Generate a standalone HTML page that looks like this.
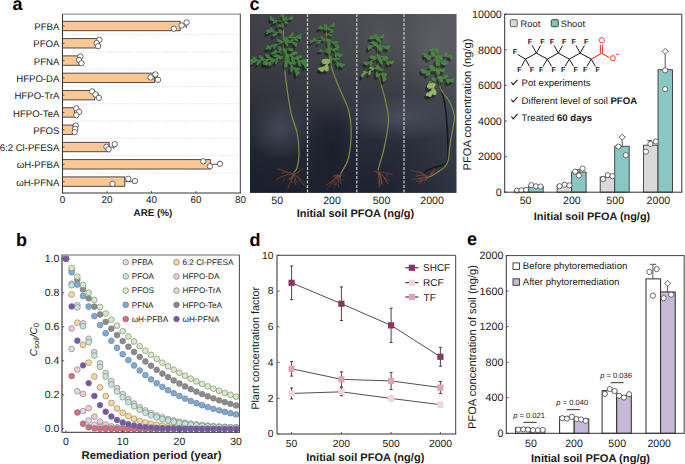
<!DOCTYPE html>
<html><head><meta charset="utf-8"><style>html,body{margin:0;padding:0;background:#fff;overflow:hidden;}svg{display:block;text-rendering:geometricPrecision;}</style></head><body>
<svg width="685" height="464" viewBox="0 0 685 464" font-family="'Liberation Sans', sans-serif">
<text x="12.60" y="10.30" font-size="18" text-anchor="start" font-weight="bold" fill="#000" >a</text>
<text x="249.60" y="10.30" font-size="18" text-anchor="start" font-weight="bold" fill="#000" >c</text>
<line x1="63.50" y1="34.64" x2="239.40" y2="34.64" stroke="#d4d4d4" stroke-width="0.8" stroke-dasharray="1.2,1.6"/>
<line x1="63.50" y1="51.94" x2="239.40" y2="51.94" stroke="#d4d4d4" stroke-width="0.8" stroke-dasharray="1.2,1.6"/>
<line x1="63.50" y1="69.22" x2="239.40" y2="69.22" stroke="#d4d4d4" stroke-width="0.8" stroke-dasharray="1.2,1.6"/>
<line x1="63.50" y1="86.52" x2="239.40" y2="86.52" stroke="#d4d4d4" stroke-width="0.8" stroke-dasharray="1.2,1.6"/>
<line x1="63.50" y1="103.80" x2="239.40" y2="103.80" stroke="#d4d4d4" stroke-width="0.8" stroke-dasharray="1.2,1.6"/>
<line x1="63.50" y1="121.09" x2="239.40" y2="121.09" stroke="#d4d4d4" stroke-width="0.8" stroke-dasharray="1.2,1.6"/>
<line x1="63.50" y1="138.38" x2="239.40" y2="138.38" stroke="#d4d4d4" stroke-width="0.8" stroke-dasharray="1.2,1.6"/>
<line x1="63.50" y1="155.67" x2="239.40" y2="155.67" stroke="#d4d4d4" stroke-width="0.8" stroke-dasharray="1.2,1.6"/>
<line x1="63.50" y1="172.97" x2="239.40" y2="172.97" stroke="#d4d4d4" stroke-width="0.8" stroke-dasharray="1.2,1.6"/>
<line x1="180.14" y1="26.00" x2="186.30" y2="26.00" stroke="#333" stroke-width="0.8" />
<line x1="186.30" y1="24.00" x2="186.30" y2="28.00" stroke="#333" stroke-width="0.8" />
<rect x="62.50" y="21.30" width="117.64" height="9.40" fill="#fbc794" stroke="#3a3a3a" stroke-width="0.9" />
<line x1="62.50" y1="26.00" x2="64.50" y2="26.00" stroke="#333" stroke-width="0.8" />
<text x="59.40" y="30.15" font-size="9.6" text-anchor="end" fill="#1a1a1a" >PFBA</text>
<circle cx="173.80" cy="28.70" r="2.7" fill="#fff" stroke="#444" stroke-width="0.8"/>
<circle cx="181.60" cy="25.50" r="2.7" fill="#fff" stroke="#444" stroke-width="0.8"/>
<circle cx="186.60" cy="22.40" r="2.7" fill="#fff" stroke="#444" stroke-width="0.8"/>
<line x1="97.64" y1="43.29" x2="99.50" y2="43.29" stroke="#333" stroke-width="0.8" />
<line x1="99.50" y1="41.29" x2="99.50" y2="45.29" stroke="#333" stroke-width="0.8" />
<rect x="62.50" y="38.59" width="35.14" height="9.40" fill="#fbc794" stroke="#3a3a3a" stroke-width="0.9" />
<line x1="62.50" y1="43.29" x2="64.50" y2="43.29" stroke="#333" stroke-width="0.8" />
<text x="59.40" y="47.44" font-size="9.6" text-anchor="end" fill="#1a1a1a" >PFOA</text>
<circle cx="99.40" cy="39.80" r="2.7" fill="#fff" stroke="#444" stroke-width="0.8"/>
<circle cx="96.60" cy="43.00" r="2.7" fill="#fff" stroke="#444" stroke-width="0.8"/>
<circle cx="98.10" cy="46.20" r="2.7" fill="#fff" stroke="#444" stroke-width="0.8"/>
<rect x="62.50" y="55.88" width="16.90" height="9.40" fill="#fbc794" stroke="#3a3a3a" stroke-width="0.9" />
<line x1="62.50" y1="60.58" x2="64.50" y2="60.58" stroke="#333" stroke-width="0.8" />
<text x="59.40" y="64.73" font-size="9.6" text-anchor="end" fill="#1a1a1a" >PFNA</text>
<circle cx="80.50" cy="56.60" r="2.7" fill="#fff" stroke="#444" stroke-width="0.8"/>
<circle cx="79.00" cy="59.90" r="2.7" fill="#fff" stroke="#444" stroke-width="0.8"/>
<circle cx="81.50" cy="63.20" r="2.7" fill="#fff" stroke="#444" stroke-width="0.8"/>
<line x1="154.34" y1="77.87" x2="157.50" y2="77.87" stroke="#333" stroke-width="0.8" />
<line x1="157.50" y1="75.87" x2="157.50" y2="79.87" stroke="#333" stroke-width="0.8" />
<rect x="62.50" y="73.17" width="91.84" height="9.40" fill="#fbc794" stroke="#3a3a3a" stroke-width="0.9" />
<line x1="62.50" y1="77.87" x2="64.50" y2="77.87" stroke="#333" stroke-width="0.8" />
<text x="59.40" y="82.02" font-size="9.6" text-anchor="end" fill="#1a1a1a" >HFPO-DA</text>
<circle cx="150.60" cy="77.40" r="2.7" fill="#fff" stroke="#444" stroke-width="0.8"/>
<circle cx="155.40" cy="74.40" r="2.7" fill="#fff" stroke="#444" stroke-width="0.8"/>
<circle cx="158.00" cy="79.80" r="2.7" fill="#fff" stroke="#444" stroke-width="0.8"/>
<line x1="94.74" y1="95.16" x2="98.50" y2="95.16" stroke="#333" stroke-width="0.8" />
<line x1="98.50" y1="93.16" x2="98.50" y2="97.16" stroke="#333" stroke-width="0.8" />
<rect x="62.50" y="90.46" width="32.24" height="9.40" fill="#fbc794" stroke="#3a3a3a" stroke-width="0.9" />
<line x1="62.50" y1="95.16" x2="64.50" y2="95.16" stroke="#333" stroke-width="0.8" />
<text x="59.40" y="99.31" font-size="9.6" text-anchor="end" fill="#1a1a1a" >HFPO-TrA</text>
<circle cx="92.10" cy="91.40" r="2.7" fill="#fff" stroke="#444" stroke-width="0.8"/>
<circle cx="95.50" cy="94.50" r="2.7" fill="#fff" stroke="#444" stroke-width="0.8"/>
<circle cx="98.90" cy="97.80" r="2.7" fill="#fff" stroke="#444" stroke-width="0.8"/>
<rect x="62.50" y="107.75" width="12.01" height="9.40" fill="#fbc794" stroke="#3a3a3a" stroke-width="0.9" />
<line x1="62.50" y1="112.45" x2="64.50" y2="112.45" stroke="#333" stroke-width="0.8" />
<text x="59.40" y="116.60" font-size="9.6" text-anchor="end" fill="#1a1a1a" >HFPO-TeA</text>
<circle cx="76.30" cy="108.40" r="2.7" fill="#fff" stroke="#444" stroke-width="0.8"/>
<circle cx="79.20" cy="111.80" r="2.7" fill="#fff" stroke="#444" stroke-width="0.8"/>
<circle cx="76.30" cy="115.20" r="2.7" fill="#fff" stroke="#444" stroke-width="0.8"/>
<rect x="62.50" y="125.04" width="10.67" height="9.40" fill="#fbc794" stroke="#3a3a3a" stroke-width="0.9" />
<line x1="62.50" y1="129.74" x2="64.50" y2="129.74" stroke="#333" stroke-width="0.8" />
<text x="59.40" y="133.89" font-size="9.6" text-anchor="end" fill="#1a1a1a" >PFOS</text>
<circle cx="75.80" cy="125.60" r="2.7" fill="#fff" stroke="#444" stroke-width="0.8"/>
<circle cx="75.20" cy="128.90" r="2.7" fill="#fff" stroke="#444" stroke-width="0.8"/>
<circle cx="74.70" cy="132.20" r="2.7" fill="#fff" stroke="#444" stroke-width="0.8"/>
<line x1="109.20" y1="147.03" x2="113.80" y2="147.03" stroke="#333" stroke-width="0.8" />
<line x1="113.80" y1="145.03" x2="113.80" y2="149.03" stroke="#333" stroke-width="0.8" />
<rect x="62.50" y="142.33" width="46.70" height="9.40" fill="#fbc794" stroke="#3a3a3a" stroke-width="0.9" />
<line x1="62.50" y1="147.03" x2="64.50" y2="147.03" stroke="#333" stroke-width="0.8" />
<text x="59.40" y="151.18" font-size="9.6" text-anchor="end" fill="#1a1a1a" >6:2 Cl-PFESA</text>
<circle cx="106.50" cy="146.80" r="2.7" fill="#fff" stroke="#444" stroke-width="0.8"/>
<circle cx="108.60" cy="149.20" r="2.7" fill="#fff" stroke="#444" stroke-width="0.8"/>
<circle cx="114.70" cy="144.10" r="2.7" fill="#fff" stroke="#444" stroke-width="0.8"/>
<line x1="210.38" y1="164.32" x2="220.00" y2="164.32" stroke="#333" stroke-width="0.8" />
<line x1="220.00" y1="162.32" x2="220.00" y2="166.32" stroke="#333" stroke-width="0.8" />
<rect x="62.50" y="159.62" width="147.88" height="9.40" fill="#fbc794" stroke="#3a3a3a" stroke-width="0.9" />
<line x1="62.50" y1="164.32" x2="64.50" y2="164.32" stroke="#333" stroke-width="0.8" />
<text x="59.40" y="168.47" font-size="9.6" text-anchor="end" fill="#1a1a1a" >ωH-PFBA</text>
<circle cx="203.20" cy="161.30" r="2.7" fill="#fff" stroke="#444" stroke-width="0.8"/>
<circle cx="209.90" cy="166.20" r="2.7" fill="#fff" stroke="#444" stroke-width="0.8"/>
<circle cx="220.00" cy="163.80" r="2.7" fill="#fff" stroke="#444" stroke-width="0.8"/>
<line x1="124.77" y1="181.61" x2="133.00" y2="181.61" stroke="#333" stroke-width="0.8" />
<line x1="133.00" y1="179.61" x2="133.00" y2="183.61" stroke="#333" stroke-width="0.8" />
<rect x="62.50" y="176.91" width="62.27" height="9.40" fill="#fbc794" stroke="#3a3a3a" stroke-width="0.9" />
<line x1="62.50" y1="181.61" x2="64.50" y2="181.61" stroke="#333" stroke-width="0.8" />
<text x="59.40" y="185.76" font-size="9.6" text-anchor="end" fill="#1a1a1a" >ωH-PFNA</text>
<circle cx="112.50" cy="183.80" r="2.7" fill="#fff" stroke="#444" stroke-width="0.8"/>
<circle cx="128.30" cy="178.80" r="2.7" fill="#fff" stroke="#444" stroke-width="0.8"/>
<circle cx="134.90" cy="181.00" r="2.7" fill="#fff" stroke="#444" stroke-width="0.8"/>
<line x1="62.50" y1="14.20" x2="240.40" y2="14.20" stroke="#a8a8a8" stroke-width="1.6" />
<line x1="240.40" y1="13.70" x2="240.40" y2="193.00" stroke="#666" stroke-width="1.3" />
<line x1="62.50" y1="14.20" x2="62.50" y2="193.50" stroke="#333" stroke-width="1" />
<line x1="62.00" y1="193.00" x2="241.00" y2="193.00" stroke="#333" stroke-width="1" />
<text x="62.50" y="203.40" font-size="9.9" text-anchor="middle" fill="#1a1a1a" >0</text>
<line x1="106.97" y1="193.00" x2="106.97" y2="191.00" stroke="#333" stroke-width="0.8" />
<text x="106.97" y="203.40" font-size="9.9" text-anchor="middle" fill="#1a1a1a" >20</text>
<line x1="151.45" y1="193.00" x2="151.45" y2="191.00" stroke="#333" stroke-width="0.8" />
<text x="151.45" y="203.40" font-size="9.9" text-anchor="middle" fill="#1a1a1a" >40</text>
<line x1="195.92" y1="193.00" x2="195.92" y2="191.00" stroke="#333" stroke-width="0.8" />
<text x="195.92" y="203.40" font-size="9.9" text-anchor="middle" fill="#1a1a1a" >60</text>
<text x="240.40" y="203.40" font-size="9.9" text-anchor="middle" fill="#1a1a1a" >80</text>
<text x="152.90" y="215.60" font-size="9.8" text-anchor="middle" font-weight="bold" fill="#1a1a1a" >ARE (%)</text>
<text x="16.00" y="245.60" font-size="18" text-anchor="start" font-weight="bold" fill="#000" >b</text>
<circle cx="66.00" cy="258.80" r="2.9" fill="#fdd897" stroke="#7a7a7a" stroke-width="0.6"/>
<circle cx="71.67" cy="294.50" r="2.9" fill="#fdd897" stroke="#7a7a7a" stroke-width="0.6"/>
<circle cx="77.34" cy="322.70" r="2.9" fill="#fdd897" stroke="#7a7a7a" stroke-width="0.6"/>
<circle cx="83.01" cy="344.98" r="2.9" fill="#fdd897" stroke="#7a7a7a" stroke-width="0.6"/>
<circle cx="88.68" cy="362.58" r="2.9" fill="#fdd897" stroke="#7a7a7a" stroke-width="0.6"/>
<circle cx="94.35" cy="376.49" r="2.9" fill="#fdd897" stroke="#7a7a7a" stroke-width="0.6"/>
<circle cx="100.02" cy="387.48" r="2.9" fill="#fdd897" stroke="#7a7a7a" stroke-width="0.6"/>
<circle cx="105.69" cy="396.15" r="2.9" fill="#fdd897" stroke="#7a7a7a" stroke-width="0.6"/>
<circle cx="111.36" cy="403.01" r="2.9" fill="#fdd897" stroke="#7a7a7a" stroke-width="0.6"/>
<circle cx="117.03" cy="408.43" r="2.9" fill="#fdd897" stroke="#7a7a7a" stroke-width="0.6"/>
<circle cx="122.70" cy="412.70" r="2.9" fill="#fdd897" stroke="#7a7a7a" stroke-width="0.6"/>
<circle cx="128.37" cy="416.08" r="2.9" fill="#fdd897" stroke="#7a7a7a" stroke-width="0.6"/>
<circle cx="134.04" cy="418.75" r="2.9" fill="#fdd897" stroke="#7a7a7a" stroke-width="0.6"/>
<circle cx="139.71" cy="420.86" r="2.9" fill="#fdd897" stroke="#7a7a7a" stroke-width="0.6"/>
<circle cx="145.38" cy="422.53" r="2.9" fill="#fdd897" stroke="#7a7a7a" stroke-width="0.6"/>
<circle cx="151.05" cy="423.85" r="2.9" fill="#fdd897" stroke="#7a7a7a" stroke-width="0.6"/>
<circle cx="156.72" cy="424.89" r="2.9" fill="#fdd897" stroke="#7a7a7a" stroke-width="0.6"/>
<circle cx="162.39" cy="425.71" r="2.9" fill="#fdd897" stroke="#7a7a7a" stroke-width="0.6"/>
<circle cx="168.06" cy="426.36" r="2.9" fill="#fdd897" stroke="#7a7a7a" stroke-width="0.6"/>
<circle cx="173.73" cy="426.87" r="2.9" fill="#fdd897" stroke="#7a7a7a" stroke-width="0.6"/>
<circle cx="179.40" cy="427.28" r="2.9" fill="#fdd897" stroke="#7a7a7a" stroke-width="0.6"/>
<circle cx="185.07" cy="427.60" r="2.9" fill="#fdd897" stroke="#7a7a7a" stroke-width="0.6"/>
<circle cx="190.74" cy="427.85" r="2.9" fill="#fdd897" stroke="#7a7a7a" stroke-width="0.6"/>
<circle cx="196.41" cy="428.05" r="2.9" fill="#fdd897" stroke="#7a7a7a" stroke-width="0.6"/>
<circle cx="202.08" cy="428.21" r="2.9" fill="#fdd897" stroke="#7a7a7a" stroke-width="0.6"/>
<circle cx="207.75" cy="428.33" r="2.9" fill="#fdd897" stroke="#7a7a7a" stroke-width="0.6"/>
<circle cx="213.42" cy="428.43" r="2.9" fill="#fdd897" stroke="#7a7a7a" stroke-width="0.6"/>
<circle cx="219.09" cy="428.51" r="2.9" fill="#fdd897" stroke="#7a7a7a" stroke-width="0.6"/>
<circle cx="224.76" cy="428.57" r="2.9" fill="#fdd897" stroke="#7a7a7a" stroke-width="0.6"/>
<circle cx="230.43" cy="428.62" r="2.9" fill="#fdd897" stroke="#7a7a7a" stroke-width="0.6"/>
<circle cx="236.10" cy="428.66" r="2.9" fill="#fdd897" stroke="#7a7a7a" stroke-width="0.6"/>
<circle cx="66.00" cy="258.80" r="2.9" fill="#d9d9d9" stroke="#7a7a7a" stroke-width="0.6"/>
<circle cx="71.67" cy="283.79" r="2.9" fill="#d9d9d9" stroke="#7a7a7a" stroke-width="0.6"/>
<circle cx="77.34" cy="305.11" r="2.9" fill="#d9d9d9" stroke="#7a7a7a" stroke-width="0.6"/>
<circle cx="83.01" cy="323.29" r="2.9" fill="#d9d9d9" stroke="#7a7a7a" stroke-width="0.6"/>
<circle cx="88.68" cy="338.80" r="2.9" fill="#d9d9d9" stroke="#7a7a7a" stroke-width="0.6"/>
<circle cx="94.35" cy="352.03" r="2.9" fill="#d9d9d9" stroke="#7a7a7a" stroke-width="0.6"/>
<circle cx="100.02" cy="363.31" r="2.9" fill="#d9d9d9" stroke="#7a7a7a" stroke-width="0.6"/>
<circle cx="105.69" cy="372.94" r="2.9" fill="#d9d9d9" stroke="#7a7a7a" stroke-width="0.6"/>
<circle cx="111.36" cy="381.15" r="2.9" fill="#d9d9d9" stroke="#7a7a7a" stroke-width="0.6"/>
<circle cx="117.03" cy="388.16" r="2.9" fill="#d9d9d9" stroke="#7a7a7a" stroke-width="0.6"/>
<circle cx="122.70" cy="394.13" r="2.9" fill="#d9d9d9" stroke="#7a7a7a" stroke-width="0.6"/>
<circle cx="128.37" cy="399.23" r="2.9" fill="#d9d9d9" stroke="#7a7a7a" stroke-width="0.6"/>
<circle cx="134.04" cy="403.57" r="2.9" fill="#d9d9d9" stroke="#7a7a7a" stroke-width="0.6"/>
<circle cx="139.71" cy="407.28" r="2.9" fill="#d9d9d9" stroke="#7a7a7a" stroke-width="0.6"/>
<circle cx="145.38" cy="410.45" r="2.9" fill="#d9d9d9" stroke="#7a7a7a" stroke-width="0.6"/>
<circle cx="151.05" cy="413.14" r="2.9" fill="#d9d9d9" stroke="#7a7a7a" stroke-width="0.6"/>
<circle cx="156.72" cy="415.45" r="2.9" fill="#d9d9d9" stroke="#7a7a7a" stroke-width="0.6"/>
<circle cx="162.39" cy="417.41" r="2.9" fill="#d9d9d9" stroke="#7a7a7a" stroke-width="0.6"/>
<circle cx="168.06" cy="419.08" r="2.9" fill="#d9d9d9" stroke="#7a7a7a" stroke-width="0.6"/>
<circle cx="173.73" cy="420.51" r="2.9" fill="#d9d9d9" stroke="#7a7a7a" stroke-width="0.6"/>
<circle cx="179.40" cy="421.73" r="2.9" fill="#d9d9d9" stroke="#7a7a7a" stroke-width="0.6"/>
<circle cx="185.07" cy="422.77" r="2.9" fill="#d9d9d9" stroke="#7a7a7a" stroke-width="0.6"/>
<circle cx="190.74" cy="423.66" r="2.9" fill="#d9d9d9" stroke="#7a7a7a" stroke-width="0.6"/>
<circle cx="196.41" cy="424.41" r="2.9" fill="#d9d9d9" stroke="#7a7a7a" stroke-width="0.6"/>
<circle cx="202.08" cy="425.06" r="2.9" fill="#d9d9d9" stroke="#7a7a7a" stroke-width="0.6"/>
<circle cx="207.75" cy="425.61" r="2.9" fill="#d9d9d9" stroke="#7a7a7a" stroke-width="0.6"/>
<circle cx="213.42" cy="426.08" r="2.9" fill="#d9d9d9" stroke="#7a7a7a" stroke-width="0.6"/>
<circle cx="219.09" cy="426.48" r="2.9" fill="#d9d9d9" stroke="#7a7a7a" stroke-width="0.6"/>
<circle cx="224.76" cy="426.82" r="2.9" fill="#d9d9d9" stroke="#7a7a7a" stroke-width="0.6"/>
<circle cx="230.43" cy="427.11" r="2.9" fill="#d9d9d9" stroke="#7a7a7a" stroke-width="0.6"/>
<circle cx="236.10" cy="427.36" r="2.9" fill="#d9d9d9" stroke="#7a7a7a" stroke-width="0.6"/>
<circle cx="66.00" cy="258.80" r="2.9" fill="#8b8b8b" stroke="#7a7a7a" stroke-width="0.6"/>
<circle cx="71.67" cy="269.68" r="2.9" fill="#8b8b8b" stroke="#7a7a7a" stroke-width="0.6"/>
<circle cx="77.34" cy="279.86" r="2.9" fill="#8b8b8b" stroke="#7a7a7a" stroke-width="0.6"/>
<circle cx="83.01" cy="289.40" r="2.9" fill="#8b8b8b" stroke="#7a7a7a" stroke-width="0.6"/>
<circle cx="88.68" cy="298.32" r="2.9" fill="#8b8b8b" stroke="#7a7a7a" stroke-width="0.6"/>
<circle cx="94.35" cy="306.67" r="2.9" fill="#8b8b8b" stroke="#7a7a7a" stroke-width="0.6"/>
<circle cx="100.02" cy="314.48" r="2.9" fill="#8b8b8b" stroke="#7a7a7a" stroke-width="0.6"/>
<circle cx="105.69" cy="321.80" r="2.9" fill="#8b8b8b" stroke="#7a7a7a" stroke-width="0.6"/>
<circle cx="111.36" cy="328.65" r="2.9" fill="#8b8b8b" stroke="#7a7a7a" stroke-width="0.6"/>
<circle cx="117.03" cy="335.06" r="2.9" fill="#8b8b8b" stroke="#7a7a7a" stroke-width="0.6"/>
<circle cx="122.70" cy="341.06" r="2.9" fill="#8b8b8b" stroke="#7a7a7a" stroke-width="0.6"/>
<circle cx="128.37" cy="346.67" r="2.9" fill="#8b8b8b" stroke="#7a7a7a" stroke-width="0.6"/>
<circle cx="134.04" cy="351.93" r="2.9" fill="#8b8b8b" stroke="#7a7a7a" stroke-width="0.6"/>
<circle cx="139.71" cy="356.85" r="2.9" fill="#8b8b8b" stroke="#7a7a7a" stroke-width="0.6"/>
<circle cx="145.38" cy="361.45" r="2.9" fill="#8b8b8b" stroke="#7a7a7a" stroke-width="0.6"/>
<circle cx="151.05" cy="365.76" r="2.9" fill="#8b8b8b" stroke="#7a7a7a" stroke-width="0.6"/>
<circle cx="156.72" cy="369.80" r="2.9" fill="#8b8b8b" stroke="#7a7a7a" stroke-width="0.6"/>
<circle cx="162.39" cy="373.57" r="2.9" fill="#8b8b8b" stroke="#7a7a7a" stroke-width="0.6"/>
<circle cx="168.06" cy="377.11" r="2.9" fill="#8b8b8b" stroke="#7a7a7a" stroke-width="0.6"/>
<circle cx="173.73" cy="380.42" r="2.9" fill="#8b8b8b" stroke="#7a7a7a" stroke-width="0.6"/>
<circle cx="179.40" cy="383.51" r="2.9" fill="#8b8b8b" stroke="#7a7a7a" stroke-width="0.6"/>
<circle cx="185.07" cy="386.41" r="2.9" fill="#8b8b8b" stroke="#7a7a7a" stroke-width="0.6"/>
<circle cx="190.74" cy="389.12" r="2.9" fill="#8b8b8b" stroke="#7a7a7a" stroke-width="0.6"/>
<circle cx="196.41" cy="391.66" r="2.9" fill="#8b8b8b" stroke="#7a7a7a" stroke-width="0.6"/>
<circle cx="202.08" cy="394.04" r="2.9" fill="#8b8b8b" stroke="#7a7a7a" stroke-width="0.6"/>
<circle cx="207.75" cy="396.27" r="2.9" fill="#8b8b8b" stroke="#7a7a7a" stroke-width="0.6"/>
<circle cx="213.42" cy="398.35" r="2.9" fill="#8b8b8b" stroke="#7a7a7a" stroke-width="0.6"/>
<circle cx="219.09" cy="400.30" r="2.9" fill="#8b8b8b" stroke="#7a7a7a" stroke-width="0.6"/>
<circle cx="224.76" cy="402.12" r="2.9" fill="#8b8b8b" stroke="#7a7a7a" stroke-width="0.6"/>
<circle cx="230.43" cy="403.83" r="2.9" fill="#8b8b8b" stroke="#7a7a7a" stroke-width="0.6"/>
<circle cx="236.10" cy="405.43" r="2.9" fill="#8b8b8b" stroke="#7a7a7a" stroke-width="0.6"/>
<circle cx="66.00" cy="258.80" r="2.9" fill="#f6c6d1" stroke="#7a7a7a" stroke-width="0.6"/>
<circle cx="71.67" cy="328.50" r="2.9" fill="#f6c6d1" stroke="#7a7a7a" stroke-width="0.6"/>
<circle cx="77.34" cy="369.62" r="2.9" fill="#f6c6d1" stroke="#7a7a7a" stroke-width="0.6"/>
<circle cx="83.01" cy="393.89" r="2.9" fill="#f6c6d1" stroke="#7a7a7a" stroke-width="0.6"/>
<circle cx="88.68" cy="408.20" r="2.9" fill="#f6c6d1" stroke="#7a7a7a" stroke-width="0.6"/>
<circle cx="94.35" cy="416.65" r="2.9" fill="#f6c6d1" stroke="#7a7a7a" stroke-width="0.6"/>
<circle cx="100.02" cy="421.63" r="2.9" fill="#f6c6d1" stroke="#7a7a7a" stroke-width="0.6"/>
<circle cx="105.69" cy="424.57" r="2.9" fill="#f6c6d1" stroke="#7a7a7a" stroke-width="0.6"/>
<circle cx="111.36" cy="426.30" r="2.9" fill="#f6c6d1" stroke="#7a7a7a" stroke-width="0.6"/>
<circle cx="117.03" cy="427.33" r="2.9" fill="#f6c6d1" stroke="#7a7a7a" stroke-width="0.6"/>
<circle cx="122.70" cy="427.93" r="2.9" fill="#f6c6d1" stroke="#7a7a7a" stroke-width="0.6"/>
<circle cx="128.37" cy="428.29" r="2.9" fill="#f6c6d1" stroke="#7a7a7a" stroke-width="0.6"/>
<circle cx="134.04" cy="428.50" r="2.9" fill="#f6c6d1" stroke="#7a7a7a" stroke-width="0.6"/>
<circle cx="139.71" cy="428.62" r="2.9" fill="#f6c6d1" stroke="#7a7a7a" stroke-width="0.6"/>
<circle cx="145.38" cy="428.69" r="2.9" fill="#f6c6d1" stroke="#7a7a7a" stroke-width="0.6"/>
<circle cx="151.05" cy="428.74" r="2.9" fill="#f6c6d1" stroke="#7a7a7a" stroke-width="0.6"/>
<circle cx="156.72" cy="428.76" r="2.9" fill="#f6c6d1" stroke="#7a7a7a" stroke-width="0.6"/>
<circle cx="162.39" cy="428.78" r="2.9" fill="#f6c6d1" stroke="#7a7a7a" stroke-width="0.6"/>
<circle cx="168.06" cy="428.79" r="2.9" fill="#f6c6d1" stroke="#7a7a7a" stroke-width="0.6"/>
<circle cx="173.73" cy="428.79" r="2.9" fill="#f6c6d1" stroke="#7a7a7a" stroke-width="0.6"/>
<circle cx="179.40" cy="428.80" r="2.9" fill="#f6c6d1" stroke="#7a7a7a" stroke-width="0.6"/>
<circle cx="185.07" cy="428.80" r="2.9" fill="#f6c6d1" stroke="#7a7a7a" stroke-width="0.6"/>
<circle cx="190.74" cy="428.80" r="2.9" fill="#f6c6d1" stroke="#7a7a7a" stroke-width="0.6"/>
<circle cx="196.41" cy="428.80" r="2.9" fill="#f6c6d1" stroke="#7a7a7a" stroke-width="0.6"/>
<circle cx="202.08" cy="428.80" r="2.9" fill="#f6c6d1" stroke="#7a7a7a" stroke-width="0.6"/>
<circle cx="207.75" cy="428.80" r="2.9" fill="#f6c6d1" stroke="#7a7a7a" stroke-width="0.6"/>
<circle cx="213.42" cy="428.80" r="2.9" fill="#f6c6d1" stroke="#7a7a7a" stroke-width="0.6"/>
<circle cx="219.09" cy="428.80" r="2.9" fill="#f6c6d1" stroke="#7a7a7a" stroke-width="0.6"/>
<circle cx="224.76" cy="428.80" r="2.9" fill="#f6c6d1" stroke="#7a7a7a" stroke-width="0.6"/>
<circle cx="230.43" cy="428.80" r="2.9" fill="#f6c6d1" stroke="#7a7a7a" stroke-width="0.6"/>
<circle cx="236.10" cy="428.80" r="2.9" fill="#f6c6d1" stroke="#7a7a7a" stroke-width="0.6"/>
<circle cx="66.00" cy="258.80" r="2.9" fill="#dcd8ef" stroke="#7a7a7a" stroke-width="0.6"/>
<circle cx="71.67" cy="348.90" r="2.9" fill="#dcd8ef" stroke="#7a7a7a" stroke-width="0.6"/>
<circle cx="77.34" cy="391.25" r="2.9" fill="#dcd8ef" stroke="#7a7a7a" stroke-width="0.6"/>
<circle cx="83.01" cy="411.15" r="2.9" fill="#dcd8ef" stroke="#7a7a7a" stroke-width="0.6"/>
<circle cx="88.68" cy="420.50" r="2.9" fill="#dcd8ef" stroke="#7a7a7a" stroke-width="0.6"/>
<circle cx="94.35" cy="424.90" r="2.9" fill="#dcd8ef" stroke="#7a7a7a" stroke-width="0.6"/>
<circle cx="100.02" cy="426.97" r="2.9" fill="#dcd8ef" stroke="#7a7a7a" stroke-width="0.6"/>
<circle cx="105.69" cy="427.94" r="2.9" fill="#dcd8ef" stroke="#7a7a7a" stroke-width="0.6"/>
<circle cx="111.36" cy="428.40" r="2.9" fill="#dcd8ef" stroke="#7a7a7a" stroke-width="0.6"/>
<circle cx="117.03" cy="428.61" r="2.9" fill="#dcd8ef" stroke="#7a7a7a" stroke-width="0.6"/>
<circle cx="122.70" cy="428.71" r="2.9" fill="#dcd8ef" stroke="#7a7a7a" stroke-width="0.6"/>
<circle cx="128.37" cy="428.76" r="2.9" fill="#dcd8ef" stroke="#7a7a7a" stroke-width="0.6"/>
<circle cx="134.04" cy="428.78" r="2.9" fill="#dcd8ef" stroke="#7a7a7a" stroke-width="0.6"/>
<circle cx="139.71" cy="428.79" r="2.9" fill="#dcd8ef" stroke="#7a7a7a" stroke-width="0.6"/>
<circle cx="145.38" cy="428.80" r="2.9" fill="#dcd8ef" stroke="#7a7a7a" stroke-width="0.6"/>
<circle cx="151.05" cy="428.80" r="2.9" fill="#dcd8ef" stroke="#7a7a7a" stroke-width="0.6"/>
<circle cx="156.72" cy="428.80" r="2.9" fill="#dcd8ef" stroke="#7a7a7a" stroke-width="0.6"/>
<circle cx="162.39" cy="428.80" r="2.9" fill="#dcd8ef" stroke="#7a7a7a" stroke-width="0.6"/>
<circle cx="168.06" cy="428.80" r="2.9" fill="#dcd8ef" stroke="#7a7a7a" stroke-width="0.6"/>
<circle cx="173.73" cy="428.80" r="2.9" fill="#dcd8ef" stroke="#7a7a7a" stroke-width="0.6"/>
<circle cx="179.40" cy="428.80" r="2.9" fill="#dcd8ef" stroke="#7a7a7a" stroke-width="0.6"/>
<circle cx="185.07" cy="428.80" r="2.9" fill="#dcd8ef" stroke="#7a7a7a" stroke-width="0.6"/>
<circle cx="190.74" cy="428.80" r="2.9" fill="#dcd8ef" stroke="#7a7a7a" stroke-width="0.6"/>
<circle cx="196.41" cy="428.80" r="2.9" fill="#dcd8ef" stroke="#7a7a7a" stroke-width="0.6"/>
<circle cx="202.08" cy="428.80" r="2.9" fill="#dcd8ef" stroke="#7a7a7a" stroke-width="0.6"/>
<circle cx="207.75" cy="428.80" r="2.9" fill="#dcd8ef" stroke="#7a7a7a" stroke-width="0.6"/>
<circle cx="213.42" cy="428.80" r="2.9" fill="#dcd8ef" stroke="#7a7a7a" stroke-width="0.6"/>
<circle cx="219.09" cy="428.80" r="2.9" fill="#dcd8ef" stroke="#7a7a7a" stroke-width="0.6"/>
<circle cx="224.76" cy="428.80" r="2.9" fill="#dcd8ef" stroke="#7a7a7a" stroke-width="0.6"/>
<circle cx="230.43" cy="428.80" r="2.9" fill="#dcd8ef" stroke="#7a7a7a" stroke-width="0.6"/>
<circle cx="236.10" cy="428.80" r="2.9" fill="#dcd8ef" stroke="#7a7a7a" stroke-width="0.6"/>
<circle cx="66.00" cy="258.80" r="2.9" fill="#dd6b7f" stroke="#7a7a7a" stroke-width="0.6"/>
<circle cx="71.67" cy="376.10" r="2.9" fill="#dd6b7f" stroke="#7a7a7a" stroke-width="0.6"/>
<circle cx="77.34" cy="412.46" r="2.9" fill="#dd6b7f" stroke="#7a7a7a" stroke-width="0.6"/>
<circle cx="83.01" cy="423.74" r="2.9" fill="#dd6b7f" stroke="#7a7a7a" stroke-width="0.6"/>
<circle cx="88.68" cy="427.23" r="2.9" fill="#dd6b7f" stroke="#7a7a7a" stroke-width="0.6"/>
<circle cx="94.35" cy="428.31" r="2.9" fill="#dd6b7f" stroke="#7a7a7a" stroke-width="0.6"/>
<circle cx="100.02" cy="428.65" r="2.9" fill="#dd6b7f" stroke="#7a7a7a" stroke-width="0.6"/>
<circle cx="105.69" cy="428.75" r="2.9" fill="#dd6b7f" stroke="#7a7a7a" stroke-width="0.6"/>
<circle cx="111.36" cy="428.79" r="2.9" fill="#dd6b7f" stroke="#7a7a7a" stroke-width="0.6"/>
<circle cx="117.03" cy="428.80" r="2.9" fill="#dd6b7f" stroke="#7a7a7a" stroke-width="0.6"/>
<circle cx="122.70" cy="428.80" r="2.9" fill="#dd6b7f" stroke="#7a7a7a" stroke-width="0.6"/>
<circle cx="128.37" cy="428.80" r="2.9" fill="#dd6b7f" stroke="#7a7a7a" stroke-width="0.6"/>
<circle cx="134.04" cy="428.80" r="2.9" fill="#dd6b7f" stroke="#7a7a7a" stroke-width="0.6"/>
<circle cx="139.71" cy="428.80" r="2.9" fill="#dd6b7f" stroke="#7a7a7a" stroke-width="0.6"/>
<circle cx="145.38" cy="428.80" r="2.9" fill="#dd6b7f" stroke="#7a7a7a" stroke-width="0.6"/>
<circle cx="151.05" cy="428.80" r="2.9" fill="#dd6b7f" stroke="#7a7a7a" stroke-width="0.6"/>
<circle cx="156.72" cy="428.80" r="2.9" fill="#dd6b7f" stroke="#7a7a7a" stroke-width="0.6"/>
<circle cx="162.39" cy="428.80" r="2.9" fill="#dd6b7f" stroke="#7a7a7a" stroke-width="0.6"/>
<circle cx="168.06" cy="428.80" r="2.9" fill="#dd6b7f" stroke="#7a7a7a" stroke-width="0.6"/>
<circle cx="173.73" cy="428.80" r="2.9" fill="#dd6b7f" stroke="#7a7a7a" stroke-width="0.6"/>
<circle cx="179.40" cy="428.80" r="2.9" fill="#dd6b7f" stroke="#7a7a7a" stroke-width="0.6"/>
<circle cx="185.07" cy="428.80" r="2.9" fill="#dd6b7f" stroke="#7a7a7a" stroke-width="0.6"/>
<circle cx="190.74" cy="428.80" r="2.9" fill="#dd6b7f" stroke="#7a7a7a" stroke-width="0.6"/>
<circle cx="196.41" cy="428.80" r="2.9" fill="#dd6b7f" stroke="#7a7a7a" stroke-width="0.6"/>
<circle cx="202.08" cy="428.80" r="2.9" fill="#dd6b7f" stroke="#7a7a7a" stroke-width="0.6"/>
<circle cx="207.75" cy="428.80" r="2.9" fill="#dd6b7f" stroke="#7a7a7a" stroke-width="0.6"/>
<circle cx="213.42" cy="428.80" r="2.9" fill="#dd6b7f" stroke="#7a7a7a" stroke-width="0.6"/>
<circle cx="219.09" cy="428.80" r="2.9" fill="#dd6b7f" stroke="#7a7a7a" stroke-width="0.6"/>
<circle cx="224.76" cy="428.80" r="2.9" fill="#dd6b7f" stroke="#7a7a7a" stroke-width="0.6"/>
<circle cx="230.43" cy="428.80" r="2.9" fill="#dd6b7f" stroke="#7a7a7a" stroke-width="0.6"/>
<circle cx="236.10" cy="428.80" r="2.9" fill="#dd6b7f" stroke="#7a7a7a" stroke-width="0.6"/>
<circle cx="66.00" cy="258.80" r="2.9" fill="#c3e7d6" stroke="#7a7a7a" stroke-width="0.6"/>
<circle cx="71.67" cy="285.15" r="2.9" fill="#c3e7d6" stroke="#7a7a7a" stroke-width="0.6"/>
<circle cx="77.34" cy="307.42" r="2.9" fill="#c3e7d6" stroke="#7a7a7a" stroke-width="0.6"/>
<circle cx="83.01" cy="326.23" r="2.9" fill="#c3e7d6" stroke="#7a7a7a" stroke-width="0.6"/>
<circle cx="88.68" cy="342.13" r="2.9" fill="#c3e7d6" stroke="#7a7a7a" stroke-width="0.6"/>
<circle cx="94.35" cy="355.56" r="2.9" fill="#c3e7d6" stroke="#7a7a7a" stroke-width="0.6"/>
<circle cx="100.02" cy="366.91" r="2.9" fill="#c3e7d6" stroke="#7a7a7a" stroke-width="0.6"/>
<circle cx="105.69" cy="376.51" r="2.9" fill="#c3e7d6" stroke="#7a7a7a" stroke-width="0.6"/>
<circle cx="111.36" cy="384.61" r="2.9" fill="#c3e7d6" stroke="#7a7a7a" stroke-width="0.6"/>
<circle cx="117.03" cy="391.46" r="2.9" fill="#c3e7d6" stroke="#7a7a7a" stroke-width="0.6"/>
<circle cx="122.70" cy="397.25" r="2.9" fill="#c3e7d6" stroke="#7a7a7a" stroke-width="0.6"/>
<circle cx="128.37" cy="402.14" r="2.9" fill="#c3e7d6" stroke="#7a7a7a" stroke-width="0.6"/>
<circle cx="134.04" cy="406.27" r="2.9" fill="#c3e7d6" stroke="#7a7a7a" stroke-width="0.6"/>
<circle cx="139.71" cy="409.76" r="2.9" fill="#c3e7d6" stroke="#7a7a7a" stroke-width="0.6"/>
<circle cx="145.38" cy="412.71" r="2.9" fill="#c3e7d6" stroke="#7a7a7a" stroke-width="0.6"/>
<circle cx="151.05" cy="415.21" r="2.9" fill="#c3e7d6" stroke="#7a7a7a" stroke-width="0.6"/>
<circle cx="156.72" cy="417.31" r="2.9" fill="#c3e7d6" stroke="#7a7a7a" stroke-width="0.6"/>
<circle cx="162.39" cy="419.09" r="2.9" fill="#c3e7d6" stroke="#7a7a7a" stroke-width="0.6"/>
<circle cx="168.06" cy="420.60" r="2.9" fill="#c3e7d6" stroke="#7a7a7a" stroke-width="0.6"/>
<circle cx="173.73" cy="421.87" r="2.9" fill="#c3e7d6" stroke="#7a7a7a" stroke-width="0.6"/>
<circle cx="179.40" cy="422.94" r="2.9" fill="#c3e7d6" stroke="#7a7a7a" stroke-width="0.6"/>
<circle cx="185.07" cy="423.85" r="2.9" fill="#c3e7d6" stroke="#7a7a7a" stroke-width="0.6"/>
<circle cx="190.74" cy="424.62" r="2.9" fill="#c3e7d6" stroke="#7a7a7a" stroke-width="0.6"/>
<circle cx="196.41" cy="425.27" r="2.9" fill="#c3e7d6" stroke="#7a7a7a" stroke-width="0.6"/>
<circle cx="202.08" cy="425.81" r="2.9" fill="#c3e7d6" stroke="#7a7a7a" stroke-width="0.6"/>
<circle cx="207.75" cy="426.28" r="2.9" fill="#c3e7d6" stroke="#7a7a7a" stroke-width="0.6"/>
<circle cx="213.42" cy="426.67" r="2.9" fill="#c3e7d6" stroke="#7a7a7a" stroke-width="0.6"/>
<circle cx="219.09" cy="427.00" r="2.9" fill="#c3e7d6" stroke="#7a7a7a" stroke-width="0.6"/>
<circle cx="224.76" cy="427.28" r="2.9" fill="#c3e7d6" stroke="#7a7a7a" stroke-width="0.6"/>
<circle cx="230.43" cy="427.51" r="2.9" fill="#c3e7d6" stroke="#7a7a7a" stroke-width="0.6"/>
<circle cx="236.10" cy="427.71" r="2.9" fill="#c3e7d6" stroke="#7a7a7a" stroke-width="0.6"/>
<circle cx="66.00" cy="258.80" r="2.9" fill="#78acdb" stroke="#7a7a7a" stroke-width="0.6"/>
<circle cx="71.67" cy="272.23" r="2.9" fill="#78acdb" stroke="#7a7a7a" stroke-width="0.6"/>
<circle cx="77.34" cy="284.60" r="2.9" fill="#78acdb" stroke="#7a7a7a" stroke-width="0.6"/>
<circle cx="83.01" cy="295.99" r="2.9" fill="#78acdb" stroke="#7a7a7a" stroke-width="0.6"/>
<circle cx="88.68" cy="306.48" r="2.9" fill="#78acdb" stroke="#7a7a7a" stroke-width="0.6"/>
<circle cx="94.35" cy="316.15" r="2.9" fill="#78acdb" stroke="#7a7a7a" stroke-width="0.6"/>
<circle cx="100.02" cy="325.05" r="2.9" fill="#78acdb" stroke="#7a7a7a" stroke-width="0.6"/>
<circle cx="105.69" cy="333.24" r="2.9" fill="#78acdb" stroke="#7a7a7a" stroke-width="0.6"/>
<circle cx="111.36" cy="340.79" r="2.9" fill="#78acdb" stroke="#7a7a7a" stroke-width="0.6"/>
<circle cx="117.03" cy="347.74" r="2.9" fill="#78acdb" stroke="#7a7a7a" stroke-width="0.6"/>
<circle cx="122.70" cy="354.15" r="2.9" fill="#78acdb" stroke="#7a7a7a" stroke-width="0.6"/>
<circle cx="128.37" cy="360.04" r="2.9" fill="#78acdb" stroke="#7a7a7a" stroke-width="0.6"/>
<circle cx="134.04" cy="365.48" r="2.9" fill="#78acdb" stroke="#7a7a7a" stroke-width="0.6"/>
<circle cx="139.71" cy="370.48" r="2.9" fill="#78acdb" stroke="#7a7a7a" stroke-width="0.6"/>
<circle cx="145.38" cy="375.09" r="2.9" fill="#78acdb" stroke="#7a7a7a" stroke-width="0.6"/>
<circle cx="151.05" cy="379.33" r="2.9" fill="#78acdb" stroke="#7a7a7a" stroke-width="0.6"/>
<circle cx="156.72" cy="383.24" r="2.9" fill="#78acdb" stroke="#7a7a7a" stroke-width="0.6"/>
<circle cx="162.39" cy="386.84" r="2.9" fill="#78acdb" stroke="#7a7a7a" stroke-width="0.6"/>
<circle cx="168.06" cy="390.15" r="2.9" fill="#78acdb" stroke="#7a7a7a" stroke-width="0.6"/>
<circle cx="173.73" cy="393.21" r="2.9" fill="#78acdb" stroke="#7a7a7a" stroke-width="0.6"/>
<circle cx="179.40" cy="396.02" r="2.9" fill="#78acdb" stroke="#7a7a7a" stroke-width="0.6"/>
<circle cx="185.07" cy="398.61" r="2.9" fill="#78acdb" stroke="#7a7a7a" stroke-width="0.6"/>
<circle cx="190.74" cy="400.99" r="2.9" fill="#78acdb" stroke="#7a7a7a" stroke-width="0.6"/>
<circle cx="196.41" cy="403.19" r="2.9" fill="#78acdb" stroke="#7a7a7a" stroke-width="0.6"/>
<circle cx="202.08" cy="405.21" r="2.9" fill="#78acdb" stroke="#7a7a7a" stroke-width="0.6"/>
<circle cx="207.75" cy="407.08" r="2.9" fill="#78acdb" stroke="#7a7a7a" stroke-width="0.6"/>
<circle cx="213.42" cy="408.79" r="2.9" fill="#78acdb" stroke="#7a7a7a" stroke-width="0.6"/>
<circle cx="219.09" cy="410.37" r="2.9" fill="#78acdb" stroke="#7a7a7a" stroke-width="0.6"/>
<circle cx="224.76" cy="411.83" r="2.9" fill="#78acdb" stroke="#7a7a7a" stroke-width="0.6"/>
<circle cx="230.43" cy="413.17" r="2.9" fill="#78acdb" stroke="#7a7a7a" stroke-width="0.6"/>
<circle cx="236.10" cy="414.40" r="2.9" fill="#78acdb" stroke="#7a7a7a" stroke-width="0.6"/>
<circle cx="66.00" cy="258.80" r="2.9" fill="#d3ecc0" stroke="#7a7a7a" stroke-width="0.6"/>
<circle cx="71.67" cy="267.98" r="2.9" fill="#d3ecc0" stroke="#7a7a7a" stroke-width="0.6"/>
<circle cx="77.34" cy="276.66" r="2.9" fill="#d3ecc0" stroke="#7a7a7a" stroke-width="0.6"/>
<circle cx="83.01" cy="284.88" r="2.9" fill="#d3ecc0" stroke="#7a7a7a" stroke-width="0.6"/>
<circle cx="88.68" cy="292.65" r="2.9" fill="#d3ecc0" stroke="#7a7a7a" stroke-width="0.6"/>
<circle cx="94.35" cy="300.00" r="2.9" fill="#d3ecc0" stroke="#7a7a7a" stroke-width="0.6"/>
<circle cx="100.02" cy="306.96" r="2.9" fill="#d3ecc0" stroke="#7a7a7a" stroke-width="0.6"/>
<circle cx="105.69" cy="313.54" r="2.9" fill="#d3ecc0" stroke="#7a7a7a" stroke-width="0.6"/>
<circle cx="111.36" cy="319.76" r="2.9" fill="#d3ecc0" stroke="#7a7a7a" stroke-width="0.6"/>
<circle cx="117.03" cy="325.65" r="2.9" fill="#d3ecc0" stroke="#7a7a7a" stroke-width="0.6"/>
<circle cx="122.70" cy="331.22" r="2.9" fill="#d3ecc0" stroke="#7a7a7a" stroke-width="0.6"/>
<circle cx="128.37" cy="336.49" r="2.9" fill="#d3ecc0" stroke="#7a7a7a" stroke-width="0.6"/>
<circle cx="134.04" cy="341.47" r="2.9" fill="#d3ecc0" stroke="#7a7a7a" stroke-width="0.6"/>
<circle cx="139.71" cy="346.19" r="2.9" fill="#d3ecc0" stroke="#7a7a7a" stroke-width="0.6"/>
<circle cx="145.38" cy="350.65" r="2.9" fill="#d3ecc0" stroke="#7a7a7a" stroke-width="0.6"/>
<circle cx="151.05" cy="354.87" r="2.9" fill="#d3ecc0" stroke="#7a7a7a" stroke-width="0.6"/>
<circle cx="156.72" cy="358.86" r="2.9" fill="#d3ecc0" stroke="#7a7a7a" stroke-width="0.6"/>
<circle cx="162.39" cy="362.64" r="2.9" fill="#d3ecc0" stroke="#7a7a7a" stroke-width="0.6"/>
<circle cx="168.06" cy="366.21" r="2.9" fill="#d3ecc0" stroke="#7a7a7a" stroke-width="0.6"/>
<circle cx="173.73" cy="369.59" r="2.9" fill="#d3ecc0" stroke="#7a7a7a" stroke-width="0.6"/>
<circle cx="179.40" cy="372.79" r="2.9" fill="#d3ecc0" stroke="#7a7a7a" stroke-width="0.6"/>
<circle cx="185.07" cy="375.81" r="2.9" fill="#d3ecc0" stroke="#7a7a7a" stroke-width="0.6"/>
<circle cx="190.74" cy="378.68" r="2.9" fill="#d3ecc0" stroke="#7a7a7a" stroke-width="0.6"/>
<circle cx="196.41" cy="381.38" r="2.9" fill="#d3ecc0" stroke="#7a7a7a" stroke-width="0.6"/>
<circle cx="202.08" cy="383.94" r="2.9" fill="#d3ecc0" stroke="#7a7a7a" stroke-width="0.6"/>
<circle cx="207.75" cy="386.36" r="2.9" fill="#d3ecc0" stroke="#7a7a7a" stroke-width="0.6"/>
<circle cx="213.42" cy="388.66" r="2.9" fill="#d3ecc0" stroke="#7a7a7a" stroke-width="0.6"/>
<circle cx="219.09" cy="390.82" r="2.9" fill="#d3ecc0" stroke="#7a7a7a" stroke-width="0.6"/>
<circle cx="224.76" cy="392.87" r="2.9" fill="#d3ecc0" stroke="#7a7a7a" stroke-width="0.6"/>
<circle cx="230.43" cy="394.81" r="2.9" fill="#d3ecc0" stroke="#7a7a7a" stroke-width="0.6"/>
<circle cx="236.10" cy="396.65" r="2.9" fill="#d3ecc0" stroke="#7a7a7a" stroke-width="0.6"/>
<circle cx="66.00" cy="258.80" r="2.9" fill="#7655ab" stroke="#7a7a7a" stroke-width="0.6"/>
<circle cx="71.67" cy="306.40" r="2.9" fill="#7655ab" stroke="#7a7a7a" stroke-width="0.6"/>
<circle cx="77.34" cy="340.67" r="2.9" fill="#7655ab" stroke="#7a7a7a" stroke-width="0.6"/>
<circle cx="83.01" cy="365.35" r="2.9" fill="#7655ab" stroke="#7a7a7a" stroke-width="0.6"/>
<circle cx="88.68" cy="383.11" r="2.9" fill="#7655ab" stroke="#7a7a7a" stroke-width="0.6"/>
<circle cx="94.35" cy="395.91" r="2.9" fill="#7655ab" stroke="#7a7a7a" stroke-width="0.6"/>
<circle cx="100.02" cy="405.12" r="2.9" fill="#7655ab" stroke="#7a7a7a" stroke-width="0.6"/>
<circle cx="105.69" cy="411.75" r="2.9" fill="#7655ab" stroke="#7a7a7a" stroke-width="0.6"/>
<circle cx="111.36" cy="416.52" r="2.9" fill="#7655ab" stroke="#7a7a7a" stroke-width="0.6"/>
<circle cx="117.03" cy="419.96" r="2.9" fill="#7655ab" stroke="#7a7a7a" stroke-width="0.6"/>
<circle cx="122.70" cy="422.44" r="2.9" fill="#7655ab" stroke="#7a7a7a" stroke-width="0.6"/>
<circle cx="128.37" cy="424.22" r="2.9" fill="#7655ab" stroke="#7a7a7a" stroke-width="0.6"/>
<circle cx="134.04" cy="425.50" r="2.9" fill="#7655ab" stroke="#7a7a7a" stroke-width="0.6"/>
<circle cx="139.71" cy="426.42" r="2.9" fill="#7655ab" stroke="#7a7a7a" stroke-width="0.6"/>
<circle cx="145.38" cy="427.09" r="2.9" fill="#7655ab" stroke="#7a7a7a" stroke-width="0.6"/>
<circle cx="151.05" cy="427.57" r="2.9" fill="#7655ab" stroke="#7a7a7a" stroke-width="0.6"/>
<circle cx="156.72" cy="427.91" r="2.9" fill="#7655ab" stroke="#7a7a7a" stroke-width="0.6"/>
<circle cx="162.39" cy="428.16" r="2.9" fill="#7655ab" stroke="#7a7a7a" stroke-width="0.6"/>
<circle cx="168.06" cy="428.34" r="2.9" fill="#7655ab" stroke="#7a7a7a" stroke-width="0.6"/>
<circle cx="173.73" cy="428.47" r="2.9" fill="#7655ab" stroke="#7a7a7a" stroke-width="0.6"/>
<circle cx="179.40" cy="428.56" r="2.9" fill="#7655ab" stroke="#7a7a7a" stroke-width="0.6"/>
<circle cx="185.07" cy="428.63" r="2.9" fill="#7655ab" stroke="#7a7a7a" stroke-width="0.6"/>
<circle cx="190.74" cy="428.68" r="2.9" fill="#7655ab" stroke="#7a7a7a" stroke-width="0.6"/>
<circle cx="196.41" cy="428.71" r="2.9" fill="#7655ab" stroke="#7a7a7a" stroke-width="0.6"/>
<circle cx="202.08" cy="428.74" r="2.9" fill="#7655ab" stroke="#7a7a7a" stroke-width="0.6"/>
<circle cx="207.75" cy="428.75" r="2.9" fill="#7655ab" stroke="#7a7a7a" stroke-width="0.6"/>
<circle cx="213.42" cy="428.77" r="2.9" fill="#7655ab" stroke="#7a7a7a" stroke-width="0.6"/>
<circle cx="219.09" cy="428.78" r="2.9" fill="#7655ab" stroke="#7a7a7a" stroke-width="0.6"/>
<circle cx="224.76" cy="428.78" r="2.9" fill="#7655ab" stroke="#7a7a7a" stroke-width="0.6"/>
<circle cx="230.43" cy="428.79" r="2.9" fill="#7655ab" stroke="#7a7a7a" stroke-width="0.6"/>
<circle cx="236.10" cy="428.79" r="2.9" fill="#7655ab" stroke="#7a7a7a" stroke-width="0.6"/>
<line x1="62.00" y1="255.00" x2="239.40" y2="255.00" stroke="#999" stroke-width="1.5" />
<line x1="239.40" y1="255.00" x2="239.40" y2="432.30" stroke="#444" stroke-width="1" />
<line x1="61.50" y1="432.30" x2="239.90" y2="432.30" stroke="#333" stroke-width="1" />
<line x1="62.00" y1="254.50" x2="62.00" y2="432.30" stroke="#8a8a8a" stroke-width="2" />
<line x1="62.00" y1="428.80" x2="64.20" y2="428.80" stroke="#333" stroke-width="0.8" />
<text x="59.30" y="432.40" font-size="10.5" text-anchor="end" fill="#1a1a1a" >0.0</text>
<line x1="62.00" y1="394.80" x2="64.20" y2="394.80" stroke="#333" stroke-width="0.8" />
<text x="59.30" y="398.40" font-size="10.5" text-anchor="end" fill="#1a1a1a" >0.2</text>
<line x1="62.00" y1="360.80" x2="64.20" y2="360.80" stroke="#333" stroke-width="0.8" />
<text x="59.30" y="364.40" font-size="10.5" text-anchor="end" fill="#1a1a1a" >0.4</text>
<line x1="62.00" y1="326.80" x2="64.20" y2="326.80" stroke="#333" stroke-width="0.8" />
<text x="59.30" y="330.40" font-size="10.5" text-anchor="end" fill="#1a1a1a" >0.6</text>
<line x1="62.00" y1="292.80" x2="64.20" y2="292.80" stroke="#333" stroke-width="0.8" />
<text x="59.30" y="296.40" font-size="10.5" text-anchor="end" fill="#1a1a1a" >0.8</text>
<line x1="62.00" y1="258.80" x2="64.20" y2="258.80" stroke="#333" stroke-width="0.8" />
<text x="59.30" y="262.40" font-size="10.5" text-anchor="end" fill="#1a1a1a" >1.0</text>
<line x1="66.00" y1="432.30" x2="66.00" y2="430.30" stroke="#333" stroke-width="0.8" />
<text x="66.00" y="445.00" font-size="10.5" text-anchor="middle" fill="#1a1a1a" >0</text>
<line x1="122.70" y1="432.30" x2="122.70" y2="430.30" stroke="#333" stroke-width="0.8" />
<text x="122.70" y="445.00" font-size="10.5" text-anchor="middle" fill="#1a1a1a" >10</text>
<line x1="179.40" y1="432.30" x2="179.40" y2="430.30" stroke="#333" stroke-width="0.8" />
<text x="179.40" y="445.00" font-size="10.5" text-anchor="middle" fill="#1a1a1a" >20</text>
<line x1="236.10" y1="432.30" x2="236.10" y2="430.30" stroke="#333" stroke-width="0.8" />
<text x="236.10" y="445.00" font-size="10.5" text-anchor="middle" fill="#1a1a1a" >30</text>
<text x="151.50" y="459.30" font-size="11.35" text-anchor="middle" font-weight="bold" fill="#1a1a1a" >Remediation period (year)</text>
<g transform="translate(36.6,339.5) rotate(-90)"><text x="0" y="0" font-size="10" text-anchor="middle" fill="#1a1a1a"><tspan font-style="italic">C</tspan><tspan font-size="7.9" dy="2.8">soil</tspan><tspan font-style="italic" dy="-2.8">/C</tspan><tspan font-size="7.9" dy="2.8">0</tspan></text></g>
<circle cx="125.70" cy="262.20" r="2.85" fill="#dcd8ef" stroke="#6a6a6a" stroke-width="0.6"/>
<text x="131.70" y="264.90" font-size="8.2" text-anchor="start" fill="#1a1a1a" >PFBA</text>
<circle cx="125.70" cy="276.40" r="2.85" fill="#c3e7d6" stroke="#6a6a6a" stroke-width="0.6"/>
<text x="131.70" y="279.10" font-size="8.2" text-anchor="start" fill="#1a1a1a" >PFOA</text>
<circle cx="125.70" cy="290.60" r="2.85" fill="#d3ecc0" stroke="#6a6a6a" stroke-width="0.6"/>
<text x="131.70" y="293.30" font-size="8.2" text-anchor="start" fill="#1a1a1a" >PFOS</text>
<circle cx="125.70" cy="304.80" r="2.85" fill="#78acdb" stroke="#6a6a6a" stroke-width="0.6"/>
<text x="131.70" y="307.50" font-size="8.2" text-anchor="start" fill="#1a1a1a" >PFNA</text>
<circle cx="125.70" cy="319.00" r="2.85" fill="#dd6b7f" stroke="#6a6a6a" stroke-width="0.6"/>
<text x="131.70" y="321.70" font-size="8.2" text-anchor="start" fill="#1a1a1a" >ωH-PFBA</text>
<circle cx="176.50" cy="262.20" r="2.85" fill="#fdd897" stroke="#6a6a6a" stroke-width="0.6"/>
<text x="182.50" y="264.90" font-size="8.2" text-anchor="start" fill="#1a1a1a" >6:2 Cl-PFESA</text>
<circle cx="176.50" cy="276.40" r="2.85" fill="#f6c6d1" stroke="#6a6a6a" stroke-width="0.6"/>
<text x="182.50" y="279.10" font-size="8.2" text-anchor="start" fill="#1a1a1a" >HFPO-DA</text>
<circle cx="176.50" cy="290.60" r="2.85" fill="#d9d9d9" stroke="#6a6a6a" stroke-width="0.6"/>
<text x="182.50" y="293.30" font-size="8.2" text-anchor="start" fill="#1a1a1a" >HFPO-TrA</text>
<circle cx="176.50" cy="304.80" r="2.85" fill="#8b8b8b" stroke="#6a6a6a" stroke-width="0.6"/>
<text x="182.50" y="307.50" font-size="8.2" text-anchor="start" fill="#1a1a1a" >HFPO-TeA</text>
<circle cx="176.50" cy="319.00" r="2.85" fill="#7655ab" stroke="#6a6a6a" stroke-width="0.6"/>
<text x="182.50" y="321.70" font-size="8.2" text-anchor="start" fill="#1a1a1a" >ωH-PFNA</text>
<defs><clipPath id="pc"><rect x="250" y="14" width="206.7" height="178.9"/></clipPath><linearGradient id="bgv" x1="0" y1="0" x2="0" y2="1"><stop offset="0" stop-color="#4a4c52"/><stop offset="0.25" stop-color="#44464c"/><stop offset="0.45" stop-color="#393c44"/><stop offset="0.62" stop-color="#2a2e3a"/><stop offset="1" stop-color="#1e2332"/></linearGradient><linearGradient id="bgr" x1="0" y1="0" x2="1" y2="0"><stop offset="0" stop-color="#000" stop-opacity="0.14"/><stop offset="0.5" stop-color="#000" stop-opacity="0"/><stop offset="1" stop-color="#fff" stop-opacity="0.08"/></linearGradient><radialGradient id="glow" cx="0.5" cy="0.5" r="0.5"><stop offset="0" stop-color="#5a6272" stop-opacity="0.55"/><stop offset="1" stop-color="#5a6272" stop-opacity="0"/></radialGradient><radialGradient id="glow2" cx="0.5" cy="0.5" r="0.5"><stop offset="0" stop-color="#6a6c72" stop-opacity="0.5"/><stop offset="1" stop-color="#6a6c72" stop-opacity="0"/></radialGradient><radialGradient id="dark" cx="0.5" cy="0.5" r="0.5"><stop offset="0" stop-color="#0e121b" stop-opacity="0.45"/><stop offset="1" stop-color="#0e121b" stop-opacity="0"/></radialGradient><filter id="blur1" x="-20%" y="-20%" width="140%" height="140%"><feGaussianBlur stdDeviation="0.45"/></filter><filter id="blur2" x="-50%" y="-50%" width="200%" height="200%"><feGaussianBlur stdDeviation="8"/></filter></defs>
<g clip-path="url(#pc)">
<rect x="250.00" y="14.00" width="206.70" height="178.90" fill="url(#bgv)" stroke="none" stroke-width="1" />
<rect x="250.00" y="14.00" width="206.70" height="178.90" fill="url(#bgr)" stroke="none" stroke-width="1" />
<ellipse cx="280" cy="128" rx="34" ry="32" fill="url(#glow)"/>
<ellipse cx="400" cy="118" rx="60" ry="24" fill="url(#glow)"/>
<ellipse cx="332" cy="150" rx="28" ry="55" fill="url(#dark)"/>
<ellipse cx="432" cy="45" rx="40" ry="50" fill="url(#glow2)"/>
<ellipse cx="380" cy="40" rx="30" ry="35" fill="url(#glow2)" opacity="0.6"/>
<path d="M283.5,30 C283.5,32.5 283.2,38.2 283.5,45 C283.8,51.8 284.4,63.3 285,71 C285.6,78.7 286.3,83.8 287.4,91 C288.4,98.2 289.6,106.8 291.3,114 C293.0,121.2 296.0,127.2 297.3,134 C298.6,140.8 299.1,149.3 299,155 C298.9,160.7 297.8,165.2 297,168 C296.2,170.8 294.5,171.3 294,172" fill="none" stroke="#7f8842" stroke-width="1.25" stroke-linecap="round" opacity="1"/>
<path d="M326,25 C326.3,29.2 326.9,42.3 328,50 C329.1,57.7 330.6,64.2 332.7,71 C334.8,77.8 338.0,84.5 340.6,91 C343.2,97.5 346.7,103.5 348.5,110 C350.3,116.5 351.2,122.0 351.2,130 C351.2,138.0 350.2,150.8 348.5,158 C346.8,165.2 342.2,170.5 341,173" fill="none" stroke="#7f8842" stroke-width="1.25" stroke-linecap="round" opacity="1"/>
<path d="M377,38 C377.2,41.7 377.5,53.2 378,60 C378.5,66.8 378.8,72.3 380,79 C381.2,85.7 383.9,93.7 385.3,100 C386.7,106.3 388.1,112.0 388.5,117 C388.9,122.0 388.3,124.5 387.5,130 C386.7,135.5 385.3,143.3 383.7,150 C382.1,156.7 378.9,166.7 378,170" fill="none" stroke="#7f8842" stroke-width="1.25" stroke-linecap="round" opacity="1"/>
<path d="M440,85 C440.8,88.2 443.6,96.8 444.8,104 C446.0,111.2 446.7,120.0 447.2,128 C447.7,136.0 448.0,146.3 448,152 C448.0,157.7 448.2,159.7 447,162 C445.8,164.3 444.0,164.4 441,165.6 C438.0,166.8 431.8,168.1 429,169.3 C426.2,170.5 424.8,172.4 424,173" fill="none" stroke="#121419" stroke-width="1.6" stroke-linecap="round" opacity="0.85"/>
<path d="M437,53 C436.9,55.8 436.2,65.5 436.5,70 C436.8,74.5 438.0,76.7 438.8,80 C439.6,83.3 439.4,86.1 441.2,89.7 C443.0,93.3 447.6,98.1 449.6,101.7 C451.6,105.3 452.5,108.6 453.3,111.4 C454.1,114.2 454.7,115.0 454.5,118.6 C454.3,122.2 452.8,128.2 452,133 C451.2,137.8 450.2,143.2 449.6,147.6 C449.0,152.0 449.2,156.4 448.4,159.6 C447.6,162.8 446.8,164.7 444.8,166.9 C442.8,169.1 438.8,171.3 436.4,172.9 C434.0,174.5 431.9,175.7 430.3,176.5 C428.7,177.3 427.3,177.5 426.7,177.7" fill="none" stroke="#7f8842" stroke-width="1.25" stroke-linecap="round" opacity="1"/>
<g filter="url(#blur1)">
<ellipse cx="273.2" cy="58.6" rx="4.5" ry="2.2" fill="#15171c" opacity="0.5" transform="rotate(219 273.2 58.6)"/>
<ellipse cx="270.4" cy="64.6" rx="4.3" ry="2.1" fill="#15171c" opacity="0.5" transform="rotate(129 270.4 64.6)"/>
<ellipse cx="266.6" cy="59.6" rx="4.0" ry="1.9" fill="#15171c" opacity="0.5" transform="rotate(219 266.6 59.6)"/>
<ellipse cx="263.7" cy="65.0" rx="3.8" ry="1.8" fill="#15171c" opacity="0.5" transform="rotate(129 263.7 65.0)"/>
<ellipse cx="259.9" cy="60.6" rx="3.5" ry="1.7" fill="#15171c" opacity="0.5" transform="rotate(219 259.9 60.6)"/>
<ellipse cx="257.0" cy="65.3" rx="3.3" ry="1.6" fill="#15171c" opacity="0.5" transform="rotate(129 257.0 65.3)"/>
<ellipse cx="253.3" cy="61.5" rx="3.1" ry="1.5" fill="#15171c" opacity="0.5" transform="rotate(219 253.3 61.5)"/>
<ellipse cx="250.4" cy="65.6" rx="2.8" ry="1.3" fill="#15171c" opacity="0.5" transform="rotate(129 250.4 65.6)"/>
<ellipse cx="251.4" cy="63.7" rx="3.3" ry="2.5" fill="#15171c" opacity="0.5" transform="rotate(174 251.4 63.7)"/>
<line x1="283" y1="58" x2="252" y2="61" stroke="#447f3d" stroke-width="1.5"/>
<ellipse cx="275.0" cy="55.8" rx="4.5" ry="1.8" fill="#447f3d" transform="rotate(219 275.0 55.8)"/>
<ellipse cx="272.2" cy="61.8" rx="4.3" ry="1.7" fill="#447f3d" transform="rotate(129 272.2 61.8)"/>
<ellipse cx="268.4" cy="56.8" rx="4.0" ry="1.6" fill="#447f3d" transform="rotate(219 268.4 56.8)"/>
<ellipse cx="265.5" cy="62.2" rx="3.8" ry="1.5" fill="#447f3d" transform="rotate(129 265.5 62.2)"/>
<ellipse cx="261.7" cy="57.8" rx="3.5" ry="1.4" fill="#447f3d" transform="rotate(219 261.7 57.8)"/>
<ellipse cx="258.8" cy="62.5" rx="3.3" ry="1.3" fill="#447f3d" transform="rotate(129 258.8 62.5)"/>
<ellipse cx="255.1" cy="58.7" rx="3.1" ry="1.2" fill="#447f3d" transform="rotate(219 255.1 58.7)"/>
<ellipse cx="252.2" cy="62.8" rx="2.8" ry="1.1" fill="#447f3d" transform="rotate(129 252.2 62.8)"/>
<ellipse cx="253.2" cy="60.9" rx="3.3" ry="2.1" fill="#447f3d" transform="rotate(174 253.2 60.9)"/>
<ellipse cx="278.5" cy="52.8" rx="3.8" ry="1.8" fill="#15171c" opacity="0.5" transform="rotate(-110 278.5 52.8)"/>
<ellipse cx="272.8" cy="55.2" rx="3.3" ry="1.6" fill="#15171c" opacity="0.5" transform="rotate(-200 272.8 55.2)"/>
<ellipse cx="270.7" cy="49.9" rx="2.8" ry="1.4" fill="#15171c" opacity="0.5" transform="rotate(-110 270.7 49.9)"/>
<ellipse cx="265.6" cy="51.2" rx="2.3" ry="1.1" fill="#15171c" opacity="0.5" transform="rotate(-200 265.6 51.2)"/>
<ellipse cx="267.3" cy="50.3" rx="2.8" ry="2.1" fill="#15171c" opacity="0.5" transform="rotate(-155 267.3 50.3)"/>
<line x1="283" y1="54" x2="268" y2="47" stroke="#447f3d" stroke-width="1.2"/>
<ellipse cx="280.3" cy="50.0" rx="3.8" ry="1.5" fill="#447f3d" transform="rotate(-110 280.3 50.0)"/>
<ellipse cx="274.6" cy="52.4" rx="3.3" ry="1.3" fill="#447f3d" transform="rotate(-200 274.6 52.4)"/>
<ellipse cx="272.5" cy="47.1" rx="2.8" ry="1.1" fill="#447f3d" transform="rotate(-110 272.5 47.1)"/>
<ellipse cx="267.4" cy="48.4" rx="2.3" ry="0.9" fill="#447f3d" transform="rotate(-200 267.4 48.4)"/>
<ellipse cx="269.1" cy="47.5" rx="2.8" ry="1.8" fill="#447f3d" transform="rotate(-155 269.1 47.5)"/>
<ellipse cx="285.5" cy="60.6" rx="4.9" ry="2.4" fill="#15171c" opacity="0.5" transform="rotate(73 285.5 60.6)"/>
<ellipse cx="291.2" cy="56.7" rx="4.6" ry="2.2" fill="#15171c" opacity="0.5" transform="rotate(-17 291.2 56.7)"/>
<ellipse cx="291.4" cy="63.3" rx="4.3" ry="2.1" fill="#15171c" opacity="0.5" transform="rotate(73 291.4 63.3)"/>
<ellipse cx="296.8" cy="60.0" rx="4.0" ry="1.9" fill="#15171c" opacity="0.5" transform="rotate(-17 296.8 60.0)"/>
<ellipse cx="297.4" cy="65.9" rx="3.7" ry="1.8" fill="#15171c" opacity="0.5" transform="rotate(73 297.4 65.9)"/>
<ellipse cx="302.3" cy="63.4" rx="3.3" ry="1.6" fill="#15171c" opacity="0.5" transform="rotate(-17 302.3 63.4)"/>
<ellipse cx="303.3" cy="68.5" rx="3.0" ry="1.5" fill="#15171c" opacity="0.5" transform="rotate(73 303.3 68.5)"/>
<ellipse cx="303.1" cy="66.2" rx="3.6" ry="2.7" fill="#15171c" opacity="0.5" transform="rotate(28 303.1 66.2)"/>
<line x1="283" y1="52" x2="306" y2="64" stroke="#447f3d" stroke-width="1.6"/>
<ellipse cx="287.3" cy="57.8" rx="4.9" ry="2.0" fill="#447f3d" transform="rotate(73 287.3 57.8)"/>
<ellipse cx="293.0" cy="53.9" rx="4.6" ry="1.8" fill="#447f3d" transform="rotate(-17 293.0 53.9)"/>
<ellipse cx="293.2" cy="60.5" rx="4.3" ry="1.7" fill="#447f3d" transform="rotate(73 293.2 60.5)"/>
<ellipse cx="298.6" cy="57.2" rx="4.0" ry="1.6" fill="#447f3d" transform="rotate(-17 298.6 57.2)"/>
<ellipse cx="299.2" cy="63.1" rx="3.7" ry="1.5" fill="#447f3d" transform="rotate(73 299.2 63.1)"/>
<ellipse cx="304.1" cy="60.6" rx="3.3" ry="1.3" fill="#447f3d" transform="rotate(-17 304.1 60.6)"/>
<ellipse cx="305.1" cy="65.7" rx="3.0" ry="1.2" fill="#447f3d" transform="rotate(73 305.1 65.7)"/>
<ellipse cx="304.9" cy="63.4" rx="3.6" ry="2.3" fill="#447f3d" transform="rotate(28 304.9 63.4)"/>
<ellipse cx="284.4" cy="66.3" rx="4.1" ry="2.0" fill="#15171c" opacity="0.5" transform="rotate(94 284.4 66.3)"/>
<ellipse cx="290.7" cy="65.8" rx="3.8" ry="1.8" fill="#15171c" opacity="0.5" transform="rotate(4 290.7 65.8)"/>
<ellipse cx="289.7" cy="71.6" rx="3.4" ry="1.6" fill="#15171c" opacity="0.5" transform="rotate(94 289.7 71.6)"/>
<ellipse cx="295.2" cy="71.7" rx="3.0" ry="1.4" fill="#15171c" opacity="0.5" transform="rotate(4 295.2 71.7)"/>
<ellipse cx="294.9" cy="76.9" rx="2.6" ry="1.2" fill="#15171c" opacity="0.5" transform="rotate(94 294.9 76.9)"/>
<ellipse cx="295.4" cy="74.9" rx="3.0" ry="2.3" fill="#15171c" opacity="0.5" transform="rotate(49 295.4 74.9)"/>
<line x1="285" y1="58" x2="298" y2="73" stroke="#447f3d" stroke-width="1.4"/>
<ellipse cx="286.2" cy="63.5" rx="4.1" ry="1.7" fill="#447f3d" transform="rotate(94 286.2 63.5)"/>
<ellipse cx="292.5" cy="63.0" rx="3.8" ry="1.5" fill="#447f3d" transform="rotate(4 292.5 63.0)"/>
<ellipse cx="291.5" cy="68.8" rx="3.4" ry="1.3" fill="#447f3d" transform="rotate(94 291.5 68.8)"/>
<ellipse cx="297.0" cy="68.9" rx="3.0" ry="1.2" fill="#447f3d" transform="rotate(4 297.0 68.9)"/>
<ellipse cx="296.7" cy="74.1" rx="2.6" ry="1.0" fill="#447f3d" transform="rotate(94 296.7 74.1)"/>
<ellipse cx="297.2" cy="72.1" rx="3.0" ry="1.9" fill="#447f3d" transform="rotate(49 297.2 72.1)"/>
<ellipse cx="276.0" cy="58.8" rx="3.4" ry="1.6" fill="#15171c" opacity="0.5" transform="rotate(200 276.0 58.8)"/>
<ellipse cx="274.6" cy="64.1" rx="3.1" ry="1.5" fill="#15171c" opacity="0.5" transform="rotate(110 274.6 64.1)"/>
<ellipse cx="269.8" cy="62.2" rx="2.7" ry="1.3" fill="#15171c" opacity="0.5" transform="rotate(200 269.8 62.2)"/>
<ellipse cx="268.1" cy="66.7" rx="2.4" ry="1.2" fill="#15171c" opacity="0.5" transform="rotate(110 268.1 66.7)"/>
<ellipse cx="263.6" cy="65.6" rx="2.1" ry="1.0" fill="#15171c" opacity="0.5" transform="rotate(200 263.6 65.6)"/>
<ellipse cx="265.3" cy="66.3" rx="2.5" ry="1.9" fill="#15171c" opacity="0.5" transform="rotate(155 265.3 66.3)"/>
<line x1="283" y1="56" x2="266" y2="64" stroke="#447f3d" stroke-width="1.1"/>
<ellipse cx="277.8" cy="56.0" rx="3.4" ry="1.4" fill="#447f3d" transform="rotate(200 277.8 56.0)"/>
<ellipse cx="276.4" cy="61.3" rx="3.1" ry="1.2" fill="#447f3d" transform="rotate(110 276.4 61.3)"/>
<ellipse cx="271.6" cy="59.4" rx="2.7" ry="1.1" fill="#447f3d" transform="rotate(200 271.6 59.4)"/>
<ellipse cx="269.9" cy="63.9" rx="2.4" ry="1.0" fill="#447f3d" transform="rotate(110 269.9 63.9)"/>
<ellipse cx="265.4" cy="62.8" rx="2.1" ry="0.8" fill="#447f3d" transform="rotate(200 265.4 62.8)"/>
<ellipse cx="267.1" cy="63.5" rx="2.5" ry="1.6" fill="#447f3d" transform="rotate(155 267.1 63.5)"/>
<ellipse cx="283.0" cy="53.4" rx="3.4" ry="1.6" fill="#15171c" opacity="0.5" transform="rotate(58 283.0 53.4)"/>
<ellipse cx="290.5" cy="51.5" rx="2.1" ry="1.0" fill="#15171c" opacity="0.5" transform="rotate(-32 290.5 51.5)"/>
<ellipse cx="289.0" cy="52.5" rx="2.5" ry="1.9" fill="#15171c" opacity="0.5" transform="rotate(13 289.0 52.5)"/>
<line x1="283" y1="48" x2="292" y2="50" stroke="#447f3d" stroke-width="1.1"/>
<ellipse cx="284.8" cy="50.6" rx="3.4" ry="1.4" fill="#447f3d" transform="rotate(58 284.8 50.6)"/>
<ellipse cx="292.3" cy="48.7" rx="2.1" ry="0.8" fill="#447f3d" transform="rotate(-32 292.3 48.7)"/>
<ellipse cx="290.8" cy="49.7" rx="2.5" ry="1.6" fill="#447f3d" transform="rotate(13 290.8 49.7)"/>
<ellipse cx="285.6" cy="43.2" rx="4.1" ry="2.0" fill="#15171c" opacity="0.5" transform="rotate(42 285.6 43.2)"/>
<ellipse cx="289.6" cy="38.0" rx="3.6" ry="1.7" fill="#15171c" opacity="0.5" transform="rotate(-48 289.6 38.0)"/>
<ellipse cx="294.1" cy="42.1" rx="3.1" ry="1.5" fill="#15171c" opacity="0.5" transform="rotate(42 294.1 42.1)"/>
<ellipse cx="298.1" cy="38.1" rx="2.6" ry="1.2" fill="#15171c" opacity="0.5" transform="rotate(-48 298.1 38.1)"/>
<ellipse cx="297.0" cy="39.9" rx="3.0" ry="2.3" fill="#15171c" opacity="0.5" transform="rotate(-3 297.0 39.9)"/>
<line x1="283" y1="38" x2="300" y2="37" stroke="#447f3d" stroke-width="1.4"/>
<ellipse cx="287.4" cy="40.4" rx="4.1" ry="1.7" fill="#447f3d" transform="rotate(42 287.4 40.4)"/>
<ellipse cx="291.4" cy="35.2" rx="3.6" ry="1.4" fill="#447f3d" transform="rotate(-48 291.4 35.2)"/>
<ellipse cx="295.9" cy="39.3" rx="3.1" ry="1.2" fill="#447f3d" transform="rotate(42 295.9 39.3)"/>
<ellipse cx="299.9" cy="35.3" rx="2.6" ry="1.0" fill="#447f3d" transform="rotate(-48 299.9 35.3)"/>
<ellipse cx="298.8" cy="37.1" rx="3.0" ry="1.9" fill="#447f3d" transform="rotate(-3 298.8 37.1)"/>
<ellipse cx="284.5" cy="45.9" rx="3.4" ry="1.6" fill="#15171c" opacity="0.5" transform="rotate(63 284.5 45.9)"/>
<ellipse cx="290.3" cy="43.6" rx="2.7" ry="1.3" fill="#15171c" opacity="0.5" transform="rotate(-27 290.3 43.6)"/>
<ellipse cx="293.8" cy="48.1" rx="2.1" ry="1.0" fill="#15171c" opacity="0.5" transform="rotate(63 293.8 48.1)"/>
<ellipse cx="293.1" cy="46.4" rx="2.5" ry="1.9" fill="#15171c" opacity="0.5" transform="rotate(18 293.1 46.4)"/>
<line x1="284" y1="40" x2="296" y2="44" stroke="#447f3d" stroke-width="1.1"/>
<ellipse cx="286.3" cy="43.1" rx="3.4" ry="1.4" fill="#447f3d" transform="rotate(63 286.3 43.1)"/>
<ellipse cx="292.1" cy="40.8" rx="2.7" ry="1.1" fill="#447f3d" transform="rotate(-27 292.1 40.8)"/>
<ellipse cx="295.6" cy="45.3" rx="2.1" ry="0.8" fill="#447f3d" transform="rotate(63 295.6 45.3)"/>
<ellipse cx="294.9" cy="43.6" rx="2.5" ry="1.6" fill="#447f3d" transform="rotate(18 294.9 43.6)"/>
<ellipse cx="277.8" cy="32.9" rx="3.8" ry="1.8" fill="#15171c" opacity="0.5" transform="rotate(-127 277.8 32.9)"/>
<ellipse cx="273.4" cy="36.9" rx="3.3" ry="1.6" fill="#15171c" opacity="0.5" transform="rotate(-217 273.4 36.9)"/>
<ellipse cx="270.2" cy="32.5" rx="2.8" ry="1.4" fill="#15171c" opacity="0.5" transform="rotate(-127 270.2 32.5)"/>
<ellipse cx="266.0" cy="35.3" rx="2.3" ry="1.1" fill="#15171c" opacity="0.5" transform="rotate(-217 266.0 35.3)"/>
<ellipse cx="267.4" cy="34.0" rx="2.8" ry="2.1" fill="#15171c" opacity="0.5" transform="rotate(-172 267.4 34.0)"/>
<line x1="283" y1="33" x2="268" y2="31" stroke="#447f3d" stroke-width="1.2"/>
<ellipse cx="279.6" cy="30.1" rx="3.8" ry="1.5" fill="#447f3d" transform="rotate(-127 279.6 30.1)"/>
<ellipse cx="275.2" cy="34.1" rx="3.3" ry="1.3" fill="#447f3d" transform="rotate(-217 275.2 34.1)"/>
<ellipse cx="272.0" cy="29.7" rx="2.8" ry="1.1" fill="#447f3d" transform="rotate(-127 272.0 29.7)"/>
<ellipse cx="267.8" cy="32.5" rx="2.3" ry="0.9" fill="#447f3d" transform="rotate(-217 267.8 32.5)"/>
<ellipse cx="269.2" cy="31.2" rx="2.8" ry="1.8" fill="#447f3d" transform="rotate(-172 269.2 31.2)"/>
<ellipse cx="278.1" cy="43.8" rx="3.4" ry="1.6" fill="#15171c" opacity="0.5" transform="rotate(201 278.1 43.8)"/>
<ellipse cx="272.8" cy="50.0" rx="2.1" ry="1.0" fill="#15171c" opacity="0.5" transform="rotate(111 272.8 50.0)"/>
<ellipse cx="273.3" cy="48.3" rx="2.5" ry="1.9" fill="#15171c" opacity="0.5" transform="rotate(156 273.3 48.3)"/>
<line x1="283" y1="42" x2="274" y2="46" stroke="#447f3d" stroke-width="1.1"/>
<ellipse cx="279.9" cy="41.0" rx="3.4" ry="1.4" fill="#447f3d" transform="rotate(201 279.9 41.0)"/>
<ellipse cx="274.6" cy="47.2" rx="2.1" ry="0.8" fill="#447f3d" transform="rotate(111 274.6 47.2)"/>
<ellipse cx="275.1" cy="45.5" rx="2.5" ry="1.6" fill="#447f3d" transform="rotate(156 275.1 45.5)"/>
<ellipse cx="278.7" cy="21.9" rx="3.4" ry="1.6" fill="#15171c" opacity="0.5" transform="rotate(-121 278.7 21.9)"/>
<ellipse cx="273.3" cy="24.7" rx="2.7" ry="1.3" fill="#15171c" opacity="0.5" transform="rotate(-211 273.3 24.7)"/>
<ellipse cx="269.5" cy="20.5" rx="2.1" ry="1.0" fill="#15171c" opacity="0.5" transform="rotate(-121 269.5 20.5)"/>
<ellipse cx="270.4" cy="22.1" rx="2.5" ry="1.9" fill="#15171c" opacity="0.5" transform="rotate(-166 270.4 22.1)"/>
<line x1="283" y1="22" x2="271" y2="19" stroke="#447f3d" stroke-width="1.1"/>
<ellipse cx="280.5" cy="19.1" rx="3.4" ry="1.4" fill="#447f3d" transform="rotate(-121 280.5 19.1)"/>
<ellipse cx="275.1" cy="21.9" rx="2.7" ry="1.1" fill="#447f3d" transform="rotate(-211 275.1 21.9)"/>
<ellipse cx="271.3" cy="17.7" rx="2.1" ry="0.8" fill="#447f3d" transform="rotate(-121 271.3 17.7)"/>
<ellipse cx="272.2" cy="19.3" rx="2.5" ry="1.6" fill="#447f3d" transform="rotate(-166 272.2 19.3)"/>
<ellipse cx="284.1" cy="24.9" rx="3.0" ry="1.4" fill="#15171c" opacity="0.5" transform="rotate(27 284.1 24.9)"/>
<ellipse cx="289.8" cy="19.7" rx="1.9" ry="0.9" fill="#15171c" opacity="0.5" transform="rotate(-63 289.8 19.7)"/>
<ellipse cx="289.1" cy="21.2" rx="2.2" ry="1.7" fill="#15171c" opacity="0.5" transform="rotate(-18 289.1 21.2)"/>
<line x1="283" y1="21" x2="292" y2="18" stroke="#447f3d" stroke-width="1.0"/>
<ellipse cx="285.9" cy="22.1" rx="3.0" ry="1.2" fill="#447f3d" transform="rotate(27 285.9 22.1)"/>
<ellipse cx="291.6" cy="16.9" rx="1.9" ry="0.7" fill="#447f3d" transform="rotate(-63 291.6 16.9)"/>
<ellipse cx="290.9" cy="18.4" rx="2.2" ry="1.4" fill="#447f3d" transform="rotate(-18 290.9 18.4)"/>
<ellipse cx="283.2" cy="21.6" rx="3.0" ry="1.4" fill="#15171c" opacity="0.5" transform="rotate(-45 283.2 21.6)"/>
<ellipse cx="280.0" cy="17.8" rx="1.9" ry="0.9" fill="#15171c" opacity="0.5" transform="rotate(-135 280.0 17.8)"/>
<ellipse cx="281.2" cy="19.0" rx="2.2" ry="1.7" fill="#15171c" opacity="0.5" transform="rotate(-90 281.2 19.0)"/>
<line x1="283" y1="20" x2="283" y2="15" stroke="#447f3d" stroke-width="1.0"/>
<ellipse cx="285.0" cy="18.8" rx="3.0" ry="1.2" fill="#447f3d" transform="rotate(-45 285.0 18.8)"/>
<ellipse cx="281.8" cy="15.0" rx="1.9" ry="0.7" fill="#447f3d" transform="rotate(-135 281.8 15.0)"/>
<ellipse cx="283.0" cy="16.2" rx="2.2" ry="1.4" fill="#447f3d" transform="rotate(-90 283.0 16.2)"/>
<ellipse cx="281.0" cy="27.8" rx="2.6" ry="1.3" fill="#15171c" opacity="0.5" transform="rotate(-108 281.0 27.8)"/>
<ellipse cx="276.7" cy="28.7" rx="1.6" ry="0.8" fill="#15171c" opacity="0.5" transform="rotate(-198 276.7 28.7)"/>
<ellipse cx="278.3" cy="28.3" rx="1.9" ry="1.5" fill="#15171c" opacity="0.5" transform="rotate(-153 278.3 28.3)"/>
<line x1="283" y1="27" x2="279" y2="25" stroke="#447f3d" stroke-width="0.9"/>
<ellipse cx="282.8" cy="25.0" rx="2.6" ry="1.1" fill="#447f3d" transform="rotate(-108 282.8 25.0)"/>
<ellipse cx="278.5" cy="25.9" rx="1.6" ry="0.7" fill="#447f3d" transform="rotate(-198 278.5 25.9)"/>
<ellipse cx="280.1" cy="25.5" rx="1.9" ry="1.2" fill="#447f3d" transform="rotate(-153 280.1 25.5)"/>
<ellipse cx="323.7" cy="30.1" rx="3.4" ry="1.6" fill="#15171c" opacity="0.5" transform="rotate(-108 323.7 30.1)"/>
<ellipse cx="317.6" cy="31.0" rx="2.1" ry="1.0" fill="#15171c" opacity="0.5" transform="rotate(-198 317.6 31.0)"/>
<ellipse cx="319.3" cy="30.3" rx="2.5" ry="1.9" fill="#15171c" opacity="0.5" transform="rotate(-153 319.3 30.3)"/>
<line x1="326" y1="30" x2="320" y2="27" stroke="#447f3d" stroke-width="1.1"/>
<ellipse cx="325.5" cy="27.3" rx="3.4" ry="1.4" fill="#447f3d" transform="rotate(-108 325.5 27.3)"/>
<ellipse cx="319.4" cy="28.2" rx="2.1" ry="0.8" fill="#447f3d" transform="rotate(-198 319.4 28.2)"/>
<ellipse cx="321.1" cy="27.5" rx="2.5" ry="1.6" fill="#447f3d" transform="rotate(-153 321.1 27.5)"/>
<ellipse cx="327.8" cy="31.9" rx="3.2" ry="1.5" fill="#15171c" opacity="0.5" transform="rotate(22 327.8 31.9)"/>
<ellipse cx="331.7" cy="26.6" rx="2.0" ry="0.9" fill="#15171c" opacity="0.5" transform="rotate(-68 331.7 26.6)"/>
<ellipse cx="331.1" cy="28.3" rx="2.3" ry="1.8" fill="#15171c" opacity="0.5" transform="rotate(-23 331.1 28.3)"/>
<line x1="327" y1="28" x2="334" y2="25" stroke="#447f3d" stroke-width="1.1"/>
<ellipse cx="329.6" cy="29.1" rx="3.2" ry="1.3" fill="#447f3d" transform="rotate(22 329.6 29.1)"/>
<ellipse cx="333.5" cy="23.8" rx="2.0" ry="0.8" fill="#447f3d" transform="rotate(-68 333.5 23.8)"/>
<ellipse cx="332.9" cy="25.5" rx="2.3" ry="1.5" fill="#447f3d" transform="rotate(-23 332.9 25.5)"/>
<ellipse cx="321.1" cy="41.1" rx="3.0" ry="1.4" fill="#15171c" opacity="0.5" transform="rotate(221 321.1 41.1)"/>
<ellipse cx="317.3" cy="45.0" rx="2.6" ry="1.3" fill="#15171c" opacity="0.5" transform="rotate(131 317.3 45.0)"/>
<ellipse cx="313.1" cy="42.1" rx="2.3" ry="1.1" fill="#15171c" opacity="0.5" transform="rotate(221 313.1 42.1)"/>
<ellipse cx="309.3" cy="45.0" rx="1.9" ry="0.9" fill="#15171c" opacity="0.5" transform="rotate(131 309.3 45.0)"/>
<ellipse cx="310.4" cy="43.7" rx="2.2" ry="1.7" fill="#15171c" opacity="0.5" transform="rotate(176 310.4 43.7)"/>
<line x1="327" y1="40" x2="311" y2="41" stroke="#447f3d" stroke-width="1.0"/>
<ellipse cx="322.9" cy="38.3" rx="3.0" ry="1.2" fill="#447f3d" transform="rotate(221 322.9 38.3)"/>
<ellipse cx="319.1" cy="42.2" rx="2.6" ry="1.1" fill="#447f3d" transform="rotate(131 319.1 42.2)"/>
<ellipse cx="314.9" cy="39.3" rx="2.3" ry="0.9" fill="#447f3d" transform="rotate(221 314.9 39.3)"/>
<ellipse cx="311.1" cy="42.2" rx="1.9" ry="0.7" fill="#447f3d" transform="rotate(131 311.1 42.2)"/>
<ellipse cx="312.2" cy="40.9" rx="2.2" ry="1.4" fill="#447f3d" transform="rotate(176 312.2 40.9)"/>
<ellipse cx="327.1" cy="44.9" rx="3.8" ry="1.8" fill="#15171c" opacity="0.5" transform="rotate(87 327.1 44.9)"/>
<ellipse cx="333.8" cy="45.0" rx="3.1" ry="1.5" fill="#15171c" opacity="0.5" transform="rotate(-3 333.8 45.0)"/>
<ellipse cx="335.2" cy="50.9" rx="2.3" ry="1.1" fill="#15171c" opacity="0.5" transform="rotate(87 335.2 50.9)"/>
<ellipse cx="335.3" cy="49.0" rx="2.8" ry="2.1" fill="#15171c" opacity="0.5" transform="rotate(42 335.3 49.0)"/>
<line x1="328" y1="38" x2="338" y2="47" stroke="#447f3d" stroke-width="1.2"/>
<ellipse cx="328.9" cy="42.1" rx="3.8" ry="1.5" fill="#447f3d" transform="rotate(87 328.9 42.1)"/>
<ellipse cx="335.6" cy="42.2" rx="3.1" ry="1.2" fill="#447f3d" transform="rotate(-3 335.6 42.2)"/>
<ellipse cx="337.0" cy="48.1" rx="2.3" ry="0.9" fill="#447f3d" transform="rotate(87 337.0 48.1)"/>
<ellipse cx="337.1" cy="46.2" rx="2.8" ry="1.8" fill="#447f3d" transform="rotate(42 337.1 46.2)"/>
<ellipse cx="327.6" cy="53.2" rx="3.8" ry="1.8" fill="#15171c" opacity="0.5" transform="rotate(85 327.6 53.2)"/>
<ellipse cx="333.6" cy="52.2" rx="3.3" ry="1.6" fill="#15171c" opacity="0.5" transform="rotate(-5 333.6 52.2)"/>
<ellipse cx="334.0" cy="57.7" rx="2.8" ry="1.4" fill="#15171c" opacity="0.5" transform="rotate(85 334.0 57.7)"/>
<ellipse cx="339.2" cy="57.6" rx="2.3" ry="1.1" fill="#15171c" opacity="0.5" transform="rotate(-5 339.2 57.6)"/>
<ellipse cx="337.3" cy="58.0" rx="2.8" ry="2.1" fill="#15171c" opacity="0.5" transform="rotate(40 337.3 58.0)"/>
<line x1="328" y1="46" x2="340" y2="56" stroke="#447f3d" stroke-width="1.2"/>
<ellipse cx="329.4" cy="50.4" rx="3.8" ry="1.5" fill="#447f3d" transform="rotate(85 329.4 50.4)"/>
<ellipse cx="335.4" cy="49.4" rx="3.3" ry="1.3" fill="#447f3d" transform="rotate(-5 335.4 49.4)"/>
<ellipse cx="335.8" cy="54.9" rx="2.8" ry="1.1" fill="#447f3d" transform="rotate(85 335.8 54.9)"/>
<ellipse cx="341.0" cy="54.8" rx="2.3" ry="0.9" fill="#447f3d" transform="rotate(-5 341.0 54.8)"/>
<ellipse cx="339.1" cy="55.2" rx="2.8" ry="1.8" fill="#447f3d" transform="rotate(40 339.1 55.2)"/>
<ellipse cx="328.9" cy="62.4" rx="3.8" ry="1.8" fill="#15171c" opacity="0.5" transform="rotate(85 328.9 62.4)"/>
<ellipse cx="335.1" cy="61.7" rx="3.3" ry="1.6" fill="#15171c" opacity="0.5" transform="rotate(-5 335.1 61.7)"/>
<ellipse cx="335.8" cy="67.4" rx="2.8" ry="1.4" fill="#15171c" opacity="0.5" transform="rotate(85 335.8 67.4)"/>
<ellipse cx="341.2" cy="67.6" rx="2.3" ry="1.1" fill="#15171c" opacity="0.5" transform="rotate(-5 341.2 67.6)"/>
<ellipse cx="339.3" cy="68.0" rx="2.8" ry="2.1" fill="#15171c" opacity="0.5" transform="rotate(40 339.3 68.0)"/>
<line x1="329" y1="55" x2="342" y2="66" stroke="#447f3d" stroke-width="1.2"/>
<ellipse cx="330.7" cy="59.6" rx="3.8" ry="1.5" fill="#447f3d" transform="rotate(85 330.7 59.6)"/>
<ellipse cx="336.9" cy="58.9" rx="3.3" ry="1.3" fill="#447f3d" transform="rotate(-5 336.9 58.9)"/>
<ellipse cx="337.6" cy="64.6" rx="2.8" ry="1.1" fill="#447f3d" transform="rotate(85 337.6 64.6)"/>
<ellipse cx="343.0" cy="64.8" rx="2.3" ry="0.9" fill="#447f3d" transform="rotate(-5 343.0 64.8)"/>
<ellipse cx="341.1" cy="65.2" rx="2.8" ry="1.8" fill="#447f3d" transform="rotate(40 341.1 65.2)"/>
<ellipse cx="325.5" cy="53.4" rx="2.6" ry="1.3" fill="#15171c" opacity="0.5" transform="rotate(-117 325.5 53.4)"/>
<ellipse cx="317.9" cy="53.8" rx="1.6" ry="0.8" fill="#15171c" opacity="0.5" transform="rotate(-207 317.9 53.8)"/>
<ellipse cx="319.3" cy="53.2" rx="1.9" ry="1.5" fill="#15171c" opacity="0.5" transform="rotate(-162 319.3 53.2)"/>
<line x1="329" y1="53" x2="320" y2="50" stroke="#447f3d" stroke-width="0.9"/>
<ellipse cx="327.3" cy="50.6" rx="2.6" ry="1.1" fill="#447f3d" transform="rotate(-117 327.3 50.6)"/>
<ellipse cx="319.7" cy="51.0" rx="1.6" ry="0.7" fill="#447f3d" transform="rotate(-207 319.7 51.0)"/>
<ellipse cx="321.1" cy="50.4" rx="1.9" ry="1.2" fill="#447f3d" transform="rotate(-162 321.1 50.4)"/>
<ellipse cx="328.3" cy="37.5" rx="2.6" ry="1.3" fill="#15171c" opacity="0.5" transform="rotate(14 328.3 37.5)"/>
<ellipse cx="330.7" cy="32.9" rx="1.6" ry="0.8" fill="#15171c" opacity="0.5" transform="rotate(-76 330.7 32.9)"/>
<ellipse cx="330.2" cy="34.4" rx="1.9" ry="1.5" fill="#15171c" opacity="0.5" transform="rotate(-31 330.2 34.4)"/>
<line x1="328" y1="34" x2="333" y2="31" stroke="#447f3d" stroke-width="0.9"/>
<ellipse cx="330.1" cy="34.7" rx="2.6" ry="1.1" fill="#447f3d" transform="rotate(14 330.1 34.7)"/>
<ellipse cx="332.5" cy="30.1" rx="1.6" ry="0.7" fill="#447f3d" transform="rotate(-76 332.5 30.1)"/>
<ellipse cx="332.0" cy="31.6" rx="1.9" ry="1.2" fill="#447f3d" transform="rotate(-31 332.0 31.6)"/>
<ellipse cx="324.1" cy="64.2" rx="4.4" ry="3.1" fill="#15171c" opacity="0.5" transform="rotate(177 324.1 64.2)"/>
<ellipse cx="324.9" cy="70.9" rx="3.5" ry="2.5" fill="#15171c" opacity="0.5" transform="rotate(87 324.9 70.9)"/>
<ellipse cx="318.9" cy="71.6" rx="2.7" ry="1.9" fill="#15171c" opacity="0.5" transform="rotate(177 318.9 71.6)"/>
<ellipse cx="321.0" cy="71.9" rx="3.2" ry="2.4" fill="#15171c" opacity="0.5" transform="rotate(132 321.0 71.9)"/>
<line x1="330" y1="61" x2="322" y2="70" stroke="#8fae5e" stroke-width="1.4"/>
<ellipse cx="325.9" cy="61.4" rx="4.4" ry="2.6" fill="#8fae5e" transform="rotate(177 325.9 61.4)"/>
<ellipse cx="326.7" cy="68.1" rx="3.5" ry="2.1" fill="#8fae5e" transform="rotate(87 326.7 68.1)"/>
<ellipse cx="320.7" cy="68.8" rx="2.7" ry="1.6" fill="#8fae5e" transform="rotate(177 320.7 68.8)"/>
<ellipse cx="322.8" cy="69.1" rx="3.2" ry="2.0" fill="#8fae5e" transform="rotate(132 322.8 69.1)"/>
<ellipse cx="374.3" cy="39.4" rx="3.0" ry="1.9" fill="#15171c" opacity="0.5" transform="rotate(-117 374.3 39.4)"/>
<ellipse cx="368.8" cy="40.9" rx="1.9" ry="1.2" fill="#15171c" opacity="0.5" transform="rotate(-207 368.8 40.9)"/>
<ellipse cx="370.3" cy="40.2" rx="2.2" ry="1.7" fill="#15171c" opacity="0.5" transform="rotate(-162 370.3 40.2)"/>
<line x1="377" y1="39" x2="371" y2="37" stroke="#46853e" stroke-width="1.0"/>
<ellipse cx="376.1" cy="36.6" rx="3.0" ry="1.6" fill="#46853e" transform="rotate(-117 376.1 36.6)"/>
<ellipse cx="370.6" cy="38.1" rx="1.9" ry="1.0" fill="#46853e" transform="rotate(-207 370.6 38.1)"/>
<ellipse cx="372.1" cy="37.4" rx="2.2" ry="1.4" fill="#46853e" transform="rotate(-162 372.1 37.4)"/>
<ellipse cx="377.0" cy="42.5" rx="3.0" ry="1.9" fill="#15171c" opacity="0.5" transform="rotate(36 377.0 42.5)"/>
<ellipse cx="381.0" cy="38.6" rx="1.9" ry="1.2" fill="#15171c" opacity="0.5" transform="rotate(-54 381.0 38.6)"/>
<ellipse cx="380.0" cy="40.0" rx="2.2" ry="1.7" fill="#15171c" opacity="0.5" transform="rotate(-9 380.0 40.0)"/>
<line x1="377" y1="38" x2="383" y2="37" stroke="#46853e" stroke-width="1.0"/>
<ellipse cx="378.8" cy="39.7" rx="3.0" ry="1.6" fill="#46853e" transform="rotate(36 378.8 39.7)"/>
<ellipse cx="382.8" cy="35.8" rx="1.9" ry="1.0" fill="#46853e" transform="rotate(-54 382.8 35.8)"/>
<ellipse cx="381.8" cy="37.2" rx="2.2" ry="1.4" fill="#46853e" transform="rotate(-9 381.8 37.2)"/>
<ellipse cx="372.7" cy="46.2" rx="3.4" ry="2.2" fill="#15171c" opacity="0.5" transform="rotate(211 372.7 46.2)"/>
<ellipse cx="367.5" cy="51.1" rx="2.1" ry="1.3" fill="#15171c" opacity="0.5" transform="rotate(121 367.5 51.1)"/>
<ellipse cx="368.4" cy="49.5" rx="2.5" ry="1.9" fill="#15171c" opacity="0.5" transform="rotate(166 368.4 49.5)"/>
<line x1="377" y1="45" x2="369" y2="47" stroke="#46853e" stroke-width="1.1"/>
<ellipse cx="374.5" cy="43.4" rx="3.4" ry="1.8" fill="#46853e" transform="rotate(211 374.5 43.4)"/>
<ellipse cx="369.3" cy="48.3" rx="2.1" ry="1.1" fill="#46853e" transform="rotate(121 369.3 48.3)"/>
<ellipse cx="370.2" cy="46.7" rx="2.5" ry="1.6" fill="#46853e" transform="rotate(166 370.2 46.7)"/>
<ellipse cx="378.0" cy="50.9" rx="3.8" ry="2.4" fill="#15171c" opacity="0.5" transform="rotate(62 378.0 50.9)"/>
<ellipse cx="386.6" cy="49.4" rx="2.3" ry="1.5" fill="#15171c" opacity="0.5" transform="rotate(-28 386.6 49.4)"/>
<ellipse cx="385.1" cy="50.5" rx="2.8" ry="2.1" fill="#15171c" opacity="0.5" transform="rotate(17 385.1 50.5)"/>
<line x1="378" y1="45" x2="388" y2="48" stroke="#46853e" stroke-width="1.2"/>
<ellipse cx="379.8" cy="48.1" rx="3.8" ry="2.0" fill="#46853e" transform="rotate(62 379.8 48.1)"/>
<ellipse cx="388.4" cy="46.6" rx="2.3" ry="1.2" fill="#46853e" transform="rotate(-28 388.4 46.6)"/>
<ellipse cx="386.9" cy="47.7" rx="2.8" ry="1.8" fill="#46853e" transform="rotate(17 386.9 47.7)"/>
<ellipse cx="377.2" cy="60.3" rx="3.0" ry="1.9" fill="#15171c" opacity="0.5" transform="rotate(68 377.2 60.3)"/>
<ellipse cx="383.7" cy="59.7" rx="1.9" ry="1.2" fill="#15171c" opacity="0.5" transform="rotate(-22 383.7 59.7)"/>
<ellipse cx="382.1" cy="60.3" rx="2.2" ry="1.7" fill="#15171c" opacity="0.5" transform="rotate(23 382.1 60.3)"/>
<line x1="378" y1="55" x2="385" y2="58" stroke="#46853e" stroke-width="1.0"/>
<ellipse cx="379.0" cy="57.5" rx="3.0" ry="1.6" fill="#46853e" transform="rotate(68 379.0 57.5)"/>
<ellipse cx="385.5" cy="56.9" rx="1.9" ry="1.0" fill="#46853e" transform="rotate(-22 385.5 56.9)"/>
<ellipse cx="383.9" cy="57.5" rx="2.2" ry="1.4" fill="#46853e" transform="rotate(23 383.9 57.5)"/>
<ellipse cx="379.0" cy="64.1" rx="3.4" ry="2.2" fill="#15171c" opacity="0.5" transform="rotate(65 379.0 64.1)"/>
<ellipse cx="383.8" cy="61.5" rx="3.0" ry="1.9" fill="#15171c" opacity="0.5" transform="rotate(-25 383.8 61.5)"/>
<ellipse cx="386.1" cy="66.1" rx="2.5" ry="1.6" fill="#15171c" opacity="0.5" transform="rotate(65 386.1 66.1)"/>
<ellipse cx="390.7" cy="64.5" rx="2.1" ry="1.3" fill="#15171c" opacity="0.5" transform="rotate(-25 390.7 64.5)"/>
<ellipse cx="389.1" cy="65.4" rx="2.5" ry="1.9" fill="#15171c" opacity="0.5" transform="rotate(20 389.1 65.4)"/>
<line x1="378" y1="58" x2="392" y2="63" stroke="#46853e" stroke-width="1.1"/>
<ellipse cx="380.8" cy="61.3" rx="3.4" ry="1.8" fill="#46853e" transform="rotate(65 380.8 61.3)"/>
<ellipse cx="385.6" cy="58.7" rx="3.0" ry="1.6" fill="#46853e" transform="rotate(-25 385.6 58.7)"/>
<ellipse cx="387.9" cy="63.3" rx="2.5" ry="1.3" fill="#46853e" transform="rotate(65 387.9 63.3)"/>
<ellipse cx="392.5" cy="61.7" rx="2.1" ry="1.1" fill="#46853e" transform="rotate(-25 392.5 61.7)"/>
<ellipse cx="390.9" cy="62.6" rx="2.5" ry="1.6" fill="#46853e" transform="rotate(20 390.9 62.6)"/>
<ellipse cx="371.4" cy="60.4" rx="3.4" ry="2.2" fill="#15171c" opacity="0.5" transform="rotate(196 371.4 60.4)"/>
<ellipse cx="369.2" cy="66.1" rx="2.7" ry="1.7" fill="#15171c" opacity="0.5" transform="rotate(106 369.2 66.1)"/>
<ellipse cx="363.5" cy="65.6" rx="2.1" ry="1.3" fill="#15171c" opacity="0.5" transform="rotate(196 363.5 65.6)"/>
<ellipse cx="365.3" cy="66.2" rx="2.5" ry="1.9" fill="#15171c" opacity="0.5" transform="rotate(151 365.3 66.2)"/>
<line x1="377" y1="58" x2="366" y2="64" stroke="#46853e" stroke-width="1.1"/>
<ellipse cx="373.2" cy="57.6" rx="3.4" ry="1.8" fill="#46853e" transform="rotate(196 373.2 57.6)"/>
<ellipse cx="371.0" cy="63.3" rx="2.7" ry="1.5" fill="#46853e" transform="rotate(106 371.0 63.3)"/>
<ellipse cx="365.3" cy="62.8" rx="2.1" ry="1.1" fill="#46853e" transform="rotate(196 365.3 62.8)"/>
<ellipse cx="367.1" cy="63.4" rx="2.5" ry="1.6" fill="#46853e" transform="rotate(151 367.1 63.4)"/>
<ellipse cx="376.0" cy="76.5" rx="3.8" ry="2.4" fill="#15171c" opacity="0.5" transform="rotate(97 376.0 76.5)"/>
<ellipse cx="382.1" cy="77.2" rx="3.1" ry="1.9" fill="#15171c" opacity="0.5" transform="rotate(7 382.1 77.2)"/>
<ellipse cx="382.0" cy="82.7" rx="2.3" ry="1.5" fill="#15171c" opacity="0.5" transform="rotate(97 382.0 82.7)"/>
<ellipse cx="382.5" cy="80.9" rx="2.8" ry="2.1" fill="#15171c" opacity="0.5" transform="rotate(52 382.5 80.9)"/>
<line x1="378" y1="70" x2="385" y2="79" stroke="#46853e" stroke-width="1.2"/>
<ellipse cx="377.8" cy="73.7" rx="3.8" ry="2.0" fill="#46853e" transform="rotate(97 377.8 73.7)"/>
<ellipse cx="383.9" cy="74.4" rx="3.1" ry="1.6" fill="#46853e" transform="rotate(7 383.9 74.4)"/>
<ellipse cx="383.8" cy="79.9" rx="2.3" ry="1.2" fill="#46853e" transform="rotate(97 383.8 79.9)"/>
<ellipse cx="384.3" cy="78.1" rx="2.8" ry="1.8" fill="#46853e" transform="rotate(52 384.3 78.1)"/>
<ellipse cx="375.5" cy="69.9" rx="2.6" ry="1.7" fill="#15171c" opacity="0.5" transform="rotate(104 375.5 69.9)"/>
<ellipse cx="380.1" cy="72.3" rx="1.6" ry="1.0" fill="#15171c" opacity="0.5" transform="rotate(14 380.1 72.3)"/>
<ellipse cx="378.6" cy="71.8" rx="1.9" ry="1.5" fill="#15171c" opacity="0.5" transform="rotate(59 378.6 71.8)"/>
<line x1="378" y1="65" x2="381" y2="70" stroke="#46853e" stroke-width="0.9"/>
<ellipse cx="377.3" cy="67.1" rx="2.6" ry="1.4" fill="#46853e" transform="rotate(104 377.3 67.1)"/>
<ellipse cx="381.9" cy="69.5" rx="1.6" ry="0.9" fill="#46853e" transform="rotate(14 381.9 69.5)"/>
<ellipse cx="380.4" cy="69.0" rx="1.9" ry="1.2" fill="#46853e" transform="rotate(59 380.4 69.0)"/>
<ellipse cx="369.9" cy="71.0" rx="2.7" ry="1.7" fill="#15171c" opacity="0.5" transform="rotate(198 369.9 71.0)"/>
<ellipse cx="367.9" cy="75.7" rx="2.4" ry="1.5" fill="#15171c" opacity="0.5" transform="rotate(108 367.9 75.7)"/>
<ellipse cx="363.1" cy="74.9" rx="2.0" ry="1.3" fill="#15171c" opacity="0.5" transform="rotate(198 363.1 74.9)"/>
<ellipse cx="360.7" cy="78.8" rx="1.7" ry="1.1" fill="#15171c" opacity="0.5" transform="rotate(108 360.7 78.8)"/>
<ellipse cx="361.3" cy="77.3" rx="2.0" ry="1.5" fill="#15171c" opacity="0.5" transform="rotate(153 361.3 77.3)"/>
<line x1="376" y1="68" x2="362" y2="75" stroke="#6f9a49" stroke-width="0.9"/>
<ellipse cx="371.7" cy="68.2" rx="2.7" ry="1.4" fill="#6f9a49" transform="rotate(198 371.7 68.2)"/>
<ellipse cx="369.7" cy="72.9" rx="2.4" ry="1.3" fill="#6f9a49" transform="rotate(108 369.7 72.9)"/>
<ellipse cx="364.9" cy="72.1" rx="2.0" ry="1.1" fill="#6f9a49" transform="rotate(198 364.9 72.1)"/>
<ellipse cx="362.5" cy="76.0" rx="1.7" ry="0.9" fill="#6f9a49" transform="rotate(108 362.5 76.0)"/>
<ellipse cx="363.1" cy="74.5" rx="2.0" ry="1.3" fill="#6f9a49" transform="rotate(153 363.1 74.5)"/>
<ellipse cx="435.1" cy="53.4" rx="2.9" ry="2.0" fill="#15171c" opacity="0.5" transform="rotate(-96 435.1 53.4)"/>
<ellipse cx="429.5" cy="52.7" rx="1.8" ry="1.3" fill="#15171c" opacity="0.5" transform="rotate(-186 429.5 52.7)"/>
<ellipse cx="431.1" cy="52.5" rx="2.1" ry="1.6" fill="#15171c" opacity="0.5" transform="rotate(-141 431.1 52.5)"/>
<line x1="437" y1="53" x2="432" y2="49" stroke="#48873f" stroke-width="0.9"/>
<ellipse cx="436.9" cy="50.6" rx="2.9" ry="1.7" fill="#48873f" transform="rotate(-96 436.9 50.6)"/>
<ellipse cx="431.3" cy="49.9" rx="1.8" ry="1.0" fill="#48873f" transform="rotate(-186 431.3 49.9)"/>
<ellipse cx="432.9" cy="49.7" rx="2.1" ry="1.3" fill="#48873f" transform="rotate(-141 432.9 49.7)"/>
<ellipse cx="431.4" cy="56.6" rx="3.4" ry="2.4" fill="#15171c" opacity="0.5" transform="rotate(225 431.4 56.6)"/>
<ellipse cx="427.3" cy="60.6" rx="2.7" ry="1.9" fill="#15171c" opacity="0.5" transform="rotate(135 427.3 60.6)"/>
<ellipse cx="423.2" cy="57.4" rx="2.1" ry="1.5" fill="#15171c" opacity="0.5" transform="rotate(225 423.2 57.4)"/>
<ellipse cx="424.4" cy="58.8" rx="2.5" ry="1.9" fill="#15171c" opacity="0.5" transform="rotate(180 424.4 58.8)"/>
<line x1="436" y1="56" x2="425" y2="56" stroke="#48873f" stroke-width="1.1"/>
<ellipse cx="433.2" cy="53.8" rx="3.4" ry="2.0" fill="#48873f" transform="rotate(225 433.2 53.8)"/>
<ellipse cx="429.1" cy="57.8" rx="2.7" ry="1.6" fill="#48873f" transform="rotate(135 429.1 57.8)"/>
<ellipse cx="425.0" cy="54.6" rx="2.1" ry="1.2" fill="#48873f" transform="rotate(225 425.0 54.6)"/>
<ellipse cx="426.2" cy="56.0" rx="2.5" ry="1.6" fill="#48873f" transform="rotate(180 426.2 56.0)"/>
<ellipse cx="438.7" cy="60.8" rx="3.0" ry="2.1" fill="#15171c" opacity="0.5" transform="rotate(45 438.7 60.8)"/>
<ellipse cx="443.9" cy="57.2" rx="2.4" ry="1.7" fill="#15171c" opacity="0.5" transform="rotate(-45 443.9 57.2)"/>
<ellipse cx="449.2" cy="60.0" rx="1.9" ry="1.3" fill="#15171c" opacity="0.5" transform="rotate(45 449.2 60.0)"/>
<ellipse cx="448.0" cy="58.8" rx="2.2" ry="1.7" fill="#15171c" opacity="0.5" transform="rotate(0 448.0 58.8)"/>
<line x1="437" y1="56" x2="451" y2="56" stroke="#48873f" stroke-width="1.0"/>
<ellipse cx="440.5" cy="58.0" rx="3.0" ry="1.8" fill="#48873f" transform="rotate(45 440.5 58.0)"/>
<ellipse cx="445.8" cy="54.4" rx="2.4" ry="1.4" fill="#48873f" transform="rotate(-45 445.8 54.4)"/>
<ellipse cx="451.0" cy="57.2" rx="1.9" ry="1.1" fill="#48873f" transform="rotate(45 451.0 57.2)"/>
<ellipse cx="449.8" cy="56.0" rx="2.2" ry="1.4" fill="#48873f" transform="rotate(0 449.8 56.0)"/>
<ellipse cx="435.9" cy="65.1" rx="3.8" ry="2.7" fill="#15171c" opacity="0.5" transform="rotate(77 435.9 65.1)"/>
<ellipse cx="444.0" cy="65.5" rx="2.3" ry="1.6" fill="#15171c" opacity="0.5" transform="rotate(-13 444.0 65.5)"/>
<ellipse cx="442.2" cy="66.2" rx="2.8" ry="2.1" fill="#15171c" opacity="0.5" transform="rotate(32 442.2 66.2)"/>
<line x1="437" y1="59" x2="445" y2="64" stroke="#48873f" stroke-width="1.2"/>
<ellipse cx="437.7" cy="62.3" rx="3.8" ry="2.2" fill="#48873f" transform="rotate(77 437.7 62.3)"/>
<ellipse cx="445.8" cy="62.7" rx="2.3" ry="1.4" fill="#48873f" transform="rotate(-13 445.8 62.7)"/>
<ellipse cx="444.0" cy="63.4" rx="2.8" ry="1.8" fill="#48873f" transform="rotate(32 444.0 63.4)"/>
<ellipse cx="430.6" cy="70.9" rx="3.8" ry="2.7" fill="#15171c" opacity="0.5" transform="rotate(216 430.6 70.9)"/>
<ellipse cx="426.4" cy="76.0" rx="3.1" ry="2.2" fill="#15171c" opacity="0.5" transform="rotate(126 426.4 76.0)"/>
<ellipse cx="421.0" cy="73.3" rx="2.3" ry="1.6" fill="#15171c" opacity="0.5" transform="rotate(216 421.0 73.3)"/>
<ellipse cx="422.4" cy="74.6" rx="2.8" ry="2.1" fill="#15171c" opacity="0.5" transform="rotate(171 422.4 74.6)"/>
<line x1="436" y1="70" x2="423" y2="72" stroke="#48873f" stroke-width="1.2"/>
<ellipse cx="432.4" cy="68.1" rx="3.8" ry="2.2" fill="#48873f" transform="rotate(216 432.4 68.1)"/>
<ellipse cx="428.2" cy="73.2" rx="3.1" ry="1.8" fill="#48873f" transform="rotate(126 428.2 73.2)"/>
<ellipse cx="422.8" cy="70.5" rx="2.3" ry="1.4" fill="#48873f" transform="rotate(216 422.8 70.5)"/>
<ellipse cx="424.2" cy="71.8" rx="2.8" ry="1.8" fill="#48873f" transform="rotate(171 424.2 71.8)"/>
<ellipse cx="436.0" cy="74.4" rx="3.4" ry="2.4" fill="#15171c" opacity="0.5" transform="rotate(63 436.0 74.4)"/>
<ellipse cx="441.6" cy="72.5" rx="2.1" ry="1.5" fill="#15171c" opacity="0.5" transform="rotate(-27 441.6 72.5)"/>
<ellipse cx="440.1" cy="73.4" rx="2.5" ry="1.9" fill="#15171c" opacity="0.5" transform="rotate(18 440.1 73.4)"/>
<line x1="437" y1="69" x2="443" y2="71" stroke="#48873f" stroke-width="1.1"/>
<ellipse cx="437.8" cy="71.6" rx="3.4" ry="2.0" fill="#48873f" transform="rotate(63 437.8 71.6)"/>
<ellipse cx="443.4" cy="69.7" rx="2.1" ry="1.2" fill="#48873f" transform="rotate(-27 443.4 69.7)"/>
<ellipse cx="441.9" cy="70.6" rx="2.5" ry="1.6" fill="#48873f" transform="rotate(18 441.9 70.6)"/>
<ellipse cx="439.0" cy="82.1" rx="3.4" ry="2.4" fill="#15171c" opacity="0.5" transform="rotate(65 439.0 82.1)"/>
<ellipse cx="443.8" cy="79.5" rx="3.0" ry="2.1" fill="#15171c" opacity="0.5" transform="rotate(-25 443.8 79.5)"/>
<ellipse cx="446.1" cy="84.1" rx="2.5" ry="1.8" fill="#15171c" opacity="0.5" transform="rotate(65 446.1 84.1)"/>
<ellipse cx="450.7" cy="82.5" rx="2.1" ry="1.5" fill="#15171c" opacity="0.5" transform="rotate(-25 450.7 82.5)"/>
<ellipse cx="449.1" cy="83.4" rx="2.5" ry="1.9" fill="#15171c" opacity="0.5" transform="rotate(20 449.1 83.4)"/>
<line x1="438" y1="76" x2="452" y2="81" stroke="#48873f" stroke-width="1.1"/>
<ellipse cx="440.8" cy="79.3" rx="3.4" ry="2.0" fill="#48873f" transform="rotate(65 440.8 79.3)"/>
<ellipse cx="445.6" cy="76.7" rx="3.0" ry="1.7" fill="#48873f" transform="rotate(-25 445.6 76.7)"/>
<ellipse cx="447.9" cy="81.3" rx="2.5" ry="1.5" fill="#48873f" transform="rotate(65 447.9 81.3)"/>
<ellipse cx="452.5" cy="79.7" rx="2.1" ry="1.2" fill="#48873f" transform="rotate(-25 452.5 79.7)"/>
<ellipse cx="450.9" cy="80.6" rx="2.5" ry="1.6" fill="#48873f" transform="rotate(20 450.9 80.6)"/>
<ellipse cx="432.0" cy="81.8" rx="2.4" ry="1.7" fill="#15171c" opacity="0.5" transform="rotate(209 432.0 81.8)"/>
<ellipse cx="427.5" cy="85.7" rx="1.5" ry="1.1" fill="#15171c" opacity="0.5" transform="rotate(119 427.5 85.7)"/>
<ellipse cx="428.4" cy="84.5" rx="1.8" ry="1.3" fill="#15171c" opacity="0.5" transform="rotate(164 428.4 84.5)"/>
<line x1="436" y1="80" x2="429" y2="82" stroke="#48873f" stroke-width="0.8"/>
<ellipse cx="433.8" cy="79.0" rx="2.4" ry="1.4" fill="#48873f" transform="rotate(209 433.8 79.0)"/>
<ellipse cx="429.3" cy="82.9" rx="1.5" ry="0.9" fill="#48873f" transform="rotate(119 429.3 82.9)"/>
<ellipse cx="430.2" cy="81.7" rx="1.8" ry="1.1" fill="#48873f" transform="rotate(164 430.2 81.7)"/>
<ellipse cx="429.4" cy="88.4" rx="4.4" ry="3.4" fill="#15171c" opacity="0.5" transform="rotate(159 429.4 88.4)"/>
<ellipse cx="432.2" cy="94.6" rx="3.5" ry="2.8" fill="#15171c" opacity="0.5" transform="rotate(69 432.2 94.6)"/>
<ellipse cx="426.6" cy="97.1" rx="2.7" ry="2.1" fill="#15171c" opacity="0.5" transform="rotate(159 426.6 97.1)"/>
<ellipse cx="428.7" cy="96.7" rx="3.2" ry="2.4" fill="#15171c" opacity="0.5" transform="rotate(114 428.7 96.7)"/>
<line x1="435" y1="84" x2="430" y2="95" stroke="#98b466" stroke-width="1.4"/>
<ellipse cx="431.2" cy="85.6" rx="4.4" ry="2.8" fill="#98b466" transform="rotate(159 431.2 85.6)"/>
<ellipse cx="434.0" cy="91.8" rx="3.5" ry="2.3" fill="#98b466" transform="rotate(69 434.0 91.8)"/>
<ellipse cx="428.4" cy="94.3" rx="2.7" ry="1.8" fill="#98b466" transform="rotate(159 428.4 94.3)"/>
<ellipse cx="430.5" cy="93.9" rx="3.2" ry="2.0" fill="#98b466" transform="rotate(114 430.5 93.9)"/>
</g>
<path d="M294.0,174.0 Q293.7,176.7 289.9,179.8" fill="none" stroke="#8d4a33" stroke-width="0.6" opacity="0.85"/>
<path d="M291.8,177.2 l-3.2,3.0" fill="none" stroke="#8d4a33" stroke-width="0.5" opacity="0.75"/>
<path d="M294.0,174.0 Q293.3,178.1 295.8,184.7" fill="none" stroke="#8d4a33" stroke-width="0.5" opacity="0.85"/>
<path d="M295.0,179.9 l0.4,4.6" fill="none" stroke="#8d4a33" stroke-width="0.5" opacity="0.75"/>
<path d="M294.0,174.0 Q294.6,177.0 295.9,180.5" fill="none" stroke="#8d4a33" stroke-width="0.6" opacity="0.85"/>
<path d="M295.1,177.6 l1.2,4.3" fill="none" stroke="#8d4a33" stroke-width="0.5" opacity="0.75"/>
<path d="M294.0,174.0 Q287.1,172.0 277.1,168.7" fill="none" stroke="#8d4a33" stroke-width="0.8" opacity="0.85"/>
<path d="M284.7,171.1 l-1.7,3.4" fill="none" stroke="#8d4a33" stroke-width="0.5" opacity="0.75"/>
<path d="M294.0,174.0 Q286.9,170.5 281.4,172.9" fill="none" stroke="#8d4a33" stroke-width="0.5" opacity="0.85"/>
<path d="M287.1,173.4 l-0.4,2.1" fill="none" stroke="#8d4a33" stroke-width="0.5" opacity="0.75"/>
<path d="M294.0,174.0 Q302.3,182.7 307.9,188.9" fill="none" stroke="#8d4a33" stroke-width="0.7" opacity="0.85"/>
<path d="M301.7,182.2 l2.6,3.1" fill="none" stroke="#8d4a33" stroke-width="0.5" opacity="0.75"/>
<path d="M294.0,174.0 Q283.4,174.6 276.0,179.8" fill="none" stroke="#8d4a33" stroke-width="0.7" opacity="0.85"/>
<path d="M284.1,177.2 l-1.1,4.8" fill="none" stroke="#8d4a33" stroke-width="0.5" opacity="0.75"/>
<path d="M294.0,174.0 Q297.3,173.5 303.0,168.0" fill="none" stroke="#8d4a33" stroke-width="0.8" opacity="0.85"/>
<path d="M298.9,170.7 l-1.2,3.8" fill="none" stroke="#8d4a33" stroke-width="0.5" opacity="0.75"/>
<path d="M294.0,174.0 Q290.2,178.0 288.9,179.9" fill="none" stroke="#8d4a33" stroke-width="0.7" opacity="0.85"/>
<path d="M291.2,177.2 l-4.1,2.3" fill="none" stroke="#8d4a33" stroke-width="0.5" opacity="0.75"/>
<path d="M294.0,174.0 Q298.9,177.4 306.8,183.9" fill="none" stroke="#8d4a33" stroke-width="0.5" opacity="0.85"/>
<path d="M301.0,179.5 l-4.9,2.9" fill="none" stroke="#8d4a33" stroke-width="0.5" opacity="0.75"/>
<path d="M294.0,174.0 Q291.3,178.2 291.1,182.3" fill="none" stroke="#8d4a33" stroke-width="0.6" opacity="0.85"/>
<path d="M292.4,178.6 l-0.8,2.5" fill="none" stroke="#8d4a33" stroke-width="0.5" opacity="0.75"/>
<path d="M294.0,174.0 Q289.0,183.6 288.0,188.8" fill="none" stroke="#8d4a33" stroke-width="0.7" opacity="0.85"/>
<path d="M290.7,182.1 l5.0,1.1" fill="none" stroke="#8d4a33" stroke-width="0.5" opacity="0.75"/>
<path d="M341.0,175.0 Q333.9,182.9 326.0,189.9" fill="none" stroke="#8d4a33" stroke-width="0.5" opacity="0.85"/>
<path d="M332.7,183.2 l4.9,1.9" fill="none" stroke="#8d4a33" stroke-width="0.5" opacity="0.75"/>
<path d="M341.0,175.0 Q333.9,179.2 328.3,185.9" fill="none" stroke="#8d4a33" stroke-width="0.5" opacity="0.85"/>
<path d="M334.0,181.0 l-4.3,1.8" fill="none" stroke="#8d4a33" stroke-width="0.5" opacity="0.75"/>
<path d="M341.0,175.0 Q340.2,174.4 340.4,172.3" fill="none" stroke="#8d4a33" stroke-width="0.6" opacity="0.85"/>
<path d="M340.7,173.5 l4.6,2.9" fill="none" stroke="#8d4a33" stroke-width="0.5" opacity="0.75"/>
<path d="M341.0,175.0 Q338.4,179.2 338.4,187.6" fill="none" stroke="#8d4a33" stroke-width="0.6" opacity="0.85"/>
<path d="M339.6,181.9 l3.2,2.0" fill="none" stroke="#8d4a33" stroke-width="0.5" opacity="0.75"/>
<path d="M341.0,175.0 Q335.3,178.3 326.1,185.3" fill="none" stroke="#8d4a33" stroke-width="0.8" opacity="0.85"/>
<path d="M332.8,180.7 l3.8,3.4" fill="none" stroke="#8d4a33" stroke-width="0.5" opacity="0.75"/>
<path d="M341.0,175.0 Q335.4,177.2 333.5,173.9" fill="none" stroke="#8d4a33" stroke-width="0.6" opacity="0.85"/>
<path d="M336.9,174.4 l2.4,2.6" fill="none" stroke="#8d4a33" stroke-width="0.5" opacity="0.75"/>
<path d="M341.0,175.0 Q337.2,181.8 333.5,188.3" fill="none" stroke="#8d4a33" stroke-width="0.5" opacity="0.85"/>
<path d="M336.9,182.3 l-3.7,2.9" fill="none" stroke="#8d4a33" stroke-width="0.5" opacity="0.75"/>
<path d="M341.0,175.0 Q339.3,177.3 340.9,183.1" fill="none" stroke="#8d4a33" stroke-width="0.6" opacity="0.85"/>
<path d="M341.0,179.4 l2.5,1.3" fill="none" stroke="#8d4a33" stroke-width="0.5" opacity="0.75"/>
<path d="M341.0,175.0 Q335.3,174.4 333.2,176.5" fill="none" stroke="#8d4a33" stroke-width="0.6" opacity="0.85"/>
<path d="M336.7,175.8 l-4.1,1.6" fill="none" stroke="#8d4a33" stroke-width="0.5" opacity="0.75"/>
<path d="M341.0,175.0 Q338.6,176.6 334.4,178.0" fill="none" stroke="#8d4a33" stroke-width="0.6" opacity="0.85"/>
<path d="M337.4,176.6 l0.9,4.7" fill="none" stroke="#8d4a33" stroke-width="0.5" opacity="0.75"/>
<path d="M341.0,175.0 Q337.3,173.9 335.2,178.4" fill="none" stroke="#8d4a33" stroke-width="0.5" opacity="0.85"/>
<path d="M337.8,176.9 l-0.2,3.9" fill="none" stroke="#8d4a33" stroke-width="0.5" opacity="0.75"/>
<path d="M379.0,172.0 Q377.5,180.3 379.3,188.0" fill="none" stroke="#8d4a33" stroke-width="0.5" opacity="0.85"/>
<path d="M379.2,180.8 l4.0,3.9" fill="none" stroke="#8d4a33" stroke-width="0.5" opacity="0.75"/>
<path d="M379.0,172.0 Q385.3,177.3 388.2,184.3" fill="none" stroke="#8d4a33" stroke-width="0.8" opacity="0.85"/>
<path d="M384.1,178.8 l4.0,4.5" fill="none" stroke="#8d4a33" stroke-width="0.5" opacity="0.75"/>
<path d="M379.0,172.0 Q381.8,178.6 381.6,184.2" fill="none" stroke="#8d4a33" stroke-width="0.8" opacity="0.85"/>
<path d="M380.4,178.7 l-1.2,1.0" fill="none" stroke="#8d4a33" stroke-width="0.5" opacity="0.75"/>
<path d="M379.0,172.0 Q374.8,170.4 373.7,171.6" fill="none" stroke="#8d4a33" stroke-width="0.8" opacity="0.85"/>
<path d="M376.1,171.8 l2.3,2.6" fill="none" stroke="#8d4a33" stroke-width="0.5" opacity="0.75"/>
<path d="M379.0,172.0 Q383.7,178.3 388.9,180.5" fill="none" stroke="#8d4a33" stroke-width="0.5" opacity="0.85"/>
<path d="M384.4,176.7 l0.2,3.1" fill="none" stroke="#8d4a33" stroke-width="0.5" opacity="0.75"/>
<path d="M379.0,172.0 Q377.2,174.5 379.1,171.6" fill="none" stroke="#8d4a33" stroke-width="0.5" opacity="0.85"/>
<path d="M379.1,171.8 l-0.0,3.5" fill="none" stroke="#8d4a33" stroke-width="0.5" opacity="0.75"/>
<path d="M379.0,172.0 Q384.1,172.1 393.2,174.6" fill="none" stroke="#8d4a33" stroke-width="0.6" opacity="0.85"/>
<path d="M386.8,173.4 l0.2,4.0" fill="none" stroke="#8d4a33" stroke-width="0.5" opacity="0.75"/>
<path d="M379.0,172.0 Q379.4,177.8 379.9,186.7" fill="none" stroke="#8d4a33" stroke-width="0.8" opacity="0.85"/>
<path d="M379.5,180.1 l1.7,1.8" fill="none" stroke="#8d4a33" stroke-width="0.5" opacity="0.75"/>
<path d="M379.0,172.0 Q382.1,180.5 381.9,184.5" fill="none" stroke="#8d4a33" stroke-width="0.8" opacity="0.85"/>
<path d="M380.6,178.9 l-2.8,4.7" fill="none" stroke="#8d4a33" stroke-width="0.5" opacity="0.75"/>
<path d="M379.0,172.0 Q377.3,174.6 376.8,172.4" fill="none" stroke="#8d4a33" stroke-width="0.5" opacity="0.85"/>
<path d="M377.8,172.2 l2.1,4.8" fill="none" stroke="#8d4a33" stroke-width="0.5" opacity="0.75"/>
<path d="M428.0,177.0 Q422.7,172.7 417.8,171.0" fill="none" stroke="#8d4a33" stroke-width="0.6" opacity="0.85"/>
<path d="M422.4,173.7 l3.3,2.5" fill="none" stroke="#8d4a33" stroke-width="0.5" opacity="0.75"/>
<path d="M428.0,177.0 Q427.1,180.6 424.6,180.1" fill="none" stroke="#8d4a33" stroke-width="0.8" opacity="0.85"/>
<path d="M426.1,178.7 l-1.8,4.3" fill="none" stroke="#8d4a33" stroke-width="0.5" opacity="0.75"/>
<path d="M428.0,177.0 Q423.6,176.7 417.8,178.9" fill="none" stroke="#8d4a33" stroke-width="0.7" opacity="0.85"/>
<path d="M422.4,178.1 l-1.9,4.2" fill="none" stroke="#8d4a33" stroke-width="0.5" opacity="0.75"/>
<path d="M428.0,177.0 Q419.1,170.9 410.5,170.4" fill="none" stroke="#8d4a33" stroke-width="0.7" opacity="0.85"/>
<path d="M418.4,173.4 l-2.6,1.6" fill="none" stroke="#8d4a33" stroke-width="0.5" opacity="0.75"/>
<path d="M428.0,177.0 Q419.4,178.9 411.3,179.3" fill="none" stroke="#8d4a33" stroke-width="0.7" opacity="0.85"/>
<path d="M418.8,178.3 l4.6,3.7" fill="none" stroke="#8d4a33" stroke-width="0.5" opacity="0.75"/>
<path d="M428.0,177.0 Q420.5,173.8 415.6,176.6" fill="none" stroke="#8d4a33" stroke-width="0.8" opacity="0.85"/>
<path d="M421.2,176.8 l0.3,1.1" fill="none" stroke="#8d4a33" stroke-width="0.5" opacity="0.75"/>
<path d="M428.0,177.0 Q422.3,182.2 416.3,182.0" fill="none" stroke="#8d4a33" stroke-width="0.6" opacity="0.85"/>
<path d="M421.6,179.8 l-1.1,4.2" fill="none" stroke="#8d4a33" stroke-width="0.5" opacity="0.75"/>
<path d="M428.0,177.0 Q433.4,174.6 435.4,169.6" fill="none" stroke="#8d4a33" stroke-width="0.6" opacity="0.85"/>
<path d="M432.1,172.9 l-0.5,1.8" fill="none" stroke="#8d4a33" stroke-width="0.5" opacity="0.75"/>
<path d="M428.0,177.0 Q431.6,173.5 434.8,168.1" fill="none" stroke="#8d4a33" stroke-width="0.7" opacity="0.85"/>
<path d="M431.8,172.1 l-0.4,3.6" fill="none" stroke="#8d4a33" stroke-width="0.5" opacity="0.75"/>
<path d="M428.0,177.0 Q423.1,179.8 415.7,181.0" fill="none" stroke="#8d4a33" stroke-width="0.5" opacity="0.85"/>
<path d="M421.3,179.2 l-2.9,4.6" fill="none" stroke="#8d4a33" stroke-width="0.5" opacity="0.75"/>
<line x1="307.50" y1="14.00" x2="307.50" y2="192.90" stroke="#c8c8c8" stroke-width="1.25" stroke-dasharray="2.9,1.6"/>
<line x1="356.80" y1="14.00" x2="356.80" y2="192.90" stroke="#c8c8c8" stroke-width="1.25" stroke-dasharray="2.9,1.6"/>
<line x1="404.00" y1="14.00" x2="404.00" y2="192.90" stroke="#c8c8c8" stroke-width="1.25" stroke-dasharray="2.9,1.6"/>
</g>
<text x="277.20" y="204.00" font-size="10.6" text-anchor="middle" fill="#1a1a1a" >50</text>
<text x="332.00" y="204.00" font-size="10.6" text-anchor="middle" fill="#1a1a1a" >200</text>
<text x="381.50" y="204.00" font-size="10.6" text-anchor="middle" fill="#1a1a1a" >500</text>
<text x="432.10" y="204.00" font-size="10.6" text-anchor="middle" fill="#1a1a1a" >2000</text>
<text x="355.40" y="217.10" font-size="11.0" text-anchor="middle" font-weight="bold" fill="#1a1a1a" >Initial soil PFOA (ng/g)</text>
<rect x="514.20" y="190.95" width="14.50" height="1.25" fill="#d9d9d9" stroke="#3a3a3a" stroke-width="0.9" />
<rect x="528.70" y="186.50" width="14.50" height="5.70" fill="#89c7c3" stroke="#3a3a3a" stroke-width="0.9" />
<rect x="557.10" y="185.08" width="14.50" height="7.12" fill="#d9d9d9" stroke="#3a3a3a" stroke-width="0.9" />
<rect x="571.60" y="172.09" width="14.50" height="20.11" fill="#89c7c3" stroke="#3a3a3a" stroke-width="0.9" />
<rect x="600.20" y="177.07" width="14.50" height="15.13" fill="#d9d9d9" stroke="#3a3a3a" stroke-width="0.9" />
<rect x="614.70" y="146.28" width="14.50" height="45.92" fill="#89c7c3" stroke="#3a3a3a" stroke-width="0.9" />
<rect x="643.50" y="145.21" width="14.50" height="46.99" fill="#d9d9d9" stroke="#3a3a3a" stroke-width="0.9" />
<rect x="658.00" y="69.74" width="14.50" height="122.46" fill="#89c7c3" stroke="#3a3a3a" stroke-width="0.9" />
<line x1="665.20" y1="70.40" x2="665.20" y2="51.40" stroke="#444" stroke-width="0.9" />
<line x1="662.20" y1="51.40" x2="668.20" y2="51.40" stroke="#444" stroke-width="0.9" />
<path d="M665.2,48.4 L668.2,51.4 L665.2,54.4 L662.2,51.4 Z" fill="#fff" stroke="#444" stroke-width="0.8"/>
<line x1="622.20" y1="146.50" x2="622.20" y2="137.20" stroke="#444" stroke-width="0.9" />
<line x1="619.20" y1="137.20" x2="625.20" y2="137.20" stroke="#444" stroke-width="0.9" />
<path d="M622.2,134.2 L625.2,137.2 L622.2,140.2 L619.2,137.2 Z" fill="#fff" stroke="#444" stroke-width="0.8"/>
<line x1="649.50" y1="145.10" x2="649.50" y2="140.50" stroke="#444" stroke-width="0.9" />
<line x1="647.30" y1="140.50" x2="651.80" y2="140.50" stroke="#444" stroke-width="0.9" />
<line x1="579.20" y1="172.20" x2="579.20" y2="169.60" stroke="#444" stroke-width="0.9" />
<line x1="577.20" y1="169.60" x2="581.20" y2="169.60" stroke="#444" stroke-width="0.9" />
<circle cx="516.90" cy="190.60" r="2.6" fill="#fff" stroke="#444" stroke-width="0.8"/>
<circle cx="521.50" cy="190.30" r="2.6" fill="#fff" stroke="#444" stroke-width="0.8"/>
<circle cx="526.10" cy="189.90" r="2.6" fill="#fff" stroke="#444" stroke-width="0.8"/>
<circle cx="531.30" cy="185.10" r="2.6" fill="#fff" stroke="#444" stroke-width="0.8"/>
<circle cx="535.90" cy="186.30" r="2.6" fill="#fff" stroke="#444" stroke-width="0.8"/>
<circle cx="540.50" cy="186.50" r="2.6" fill="#fff" stroke="#444" stroke-width="0.8"/>
<circle cx="559.70" cy="186.20" r="2.6" fill="#fff" stroke="#444" stroke-width="0.8"/>
<circle cx="564.70" cy="184.70" r="2.6" fill="#fff" stroke="#444" stroke-width="0.8"/>
<circle cx="569.40" cy="185.30" r="2.6" fill="#fff" stroke="#444" stroke-width="0.8"/>
<circle cx="575.20" cy="171.60" r="2.6" fill="#fff" stroke="#444" stroke-width="0.8"/>
<circle cx="578.90" cy="175.50" r="2.6" fill="#fff" stroke="#444" stroke-width="0.8"/>
<circle cx="582.60" cy="168.60" r="2.6" fill="#fff" stroke="#444" stroke-width="0.8"/>
<circle cx="602.90" cy="179.00" r="2.6" fill="#fff" stroke="#444" stroke-width="0.8"/>
<circle cx="607.80" cy="175.10" r="2.6" fill="#fff" stroke="#444" stroke-width="0.8"/>
<circle cx="612.40" cy="176.20" r="2.6" fill="#fff" stroke="#444" stroke-width="0.8"/>
<circle cx="618.40" cy="146.60" r="2.6" fill="#fff" stroke="#444" stroke-width="0.8"/>
<circle cx="625.70" cy="155.20" r="2.6" fill="#fff" stroke="#444" stroke-width="0.8"/>
<circle cx="645.90" cy="151.70" r="2.6" fill="#fff" stroke="#444" stroke-width="0.8"/>
<circle cx="650.40" cy="144.00" r="2.6" fill="#fff" stroke="#444" stroke-width="0.8"/>
<circle cx="655.70" cy="141.50" r="2.6" fill="#fff" stroke="#444" stroke-width="0.8"/>
<circle cx="665.20" cy="70.40" r="2.6" fill="#fff" stroke="#444" stroke-width="0.8"/>
<circle cx="665.20" cy="89.20" r="2.6" fill="#fff" stroke="#444" stroke-width="0.8"/>
<line x1="504.70" y1="14.20" x2="681.80" y2="14.20" stroke="#333" stroke-width="1" />
<line x1="681.80" y1="14.20" x2="681.80" y2="192.20" stroke="#333" stroke-width="1" />
<line x1="504.70" y1="13.70" x2="504.70" y2="192.70" stroke="#333" stroke-width="1" />
<line x1="504.20" y1="192.20" x2="682.30" y2="192.20" stroke="#333" stroke-width="1" />
<line x1="504.70" y1="192.20" x2="506.70" y2="192.20" stroke="#333" stroke-width="0.8" />
<text x="501.80" y="195.90" font-size="10.7" text-anchor="end" fill="#1a1a1a" >0</text>
<line x1="504.70" y1="156.60" x2="506.70" y2="156.60" stroke="#333" stroke-width="0.8" />
<text x="501.80" y="160.30" font-size="10.7" text-anchor="end" fill="#1a1a1a" >2000</text>
<line x1="504.70" y1="121.00" x2="506.70" y2="121.00" stroke="#333" stroke-width="0.8" />
<text x="501.80" y="124.70" font-size="10.7" text-anchor="end" fill="#1a1a1a" >4000</text>
<line x1="504.70" y1="85.40" x2="506.70" y2="85.40" stroke="#333" stroke-width="0.8" />
<text x="501.80" y="89.10" font-size="10.7" text-anchor="end" fill="#1a1a1a" >6000</text>
<line x1="504.70" y1="49.80" x2="506.70" y2="49.80" stroke="#333" stroke-width="0.8" />
<text x="501.80" y="53.50" font-size="10.7" text-anchor="end" fill="#1a1a1a" >8000</text>
<line x1="504.70" y1="14.20" x2="506.70" y2="14.20" stroke="#333" stroke-width="0.8" />
<text x="501.80" y="17.90" font-size="10.7" text-anchor="end" fill="#1a1a1a" >10000</text>
<text x="525.60" y="204.00" font-size="10.6" text-anchor="middle" fill="#1a1a1a" >50</text>
<text x="571.90" y="204.00" font-size="10.6" text-anchor="middle" fill="#1a1a1a" >200</text>
<text x="615.20" y="204.00" font-size="10.6" text-anchor="middle" fill="#1a1a1a" >500</text>
<text x="658.40" y="204.00" font-size="10.6" text-anchor="middle" fill="#1a1a1a" >2000</text>
<text x="592.00" y="219.60" font-size="10.9" text-anchor="middle" font-weight="bold" fill="#1a1a1a" >Initial soil PFOA (ng/g)</text>
<text transform="translate(470.6,104.45) rotate(-90)" x="0" y="0" font-size="11.15" text-anchor="middle" fill="#1a1a1a">PFOA concentration (ng/g)</text>
<rect x="510.30" y="19.70" width="7.00" height="7.00" fill="#d9d9d9" stroke="#555" stroke-width="0.9" rx="1"/>
<text x="520.60" y="26.60" font-size="9.3" text-anchor="start" fill="#1a1a1a" >Root</text>
<rect x="551.30" y="19.70" width="7.00" height="7.00" fill="#80c6b2" stroke="#333" stroke-width="0.9" rx="1"/>
<text x="560.70" y="26.60" font-size="9.3" text-anchor="start" fill="#1a1a1a" >Shoot</text>
<path d="M525.5,59.1 L536.4,53.1 L547.3,59.1 L558.3,53.1 L569.3,59.1 L580.2,53.1 L591.2,59.1" fill="none" stroke="#1a1a1a" stroke-width="1"/>
<line x1="525.50" y1="59.10" x2="517.60" y2="54.50" stroke="#1a1a1a" stroke-width="1" />
<line x1="525.50" y1="59.10" x2="521.60" y2="66.20" stroke="#1a1a1a" stroke-width="1" />
<line x1="525.50" y1="59.10" x2="529.40" y2="66.20" stroke="#1a1a1a" stroke-width="1" />
<line x1="536.40" y1="53.10" x2="532.20" y2="45.50" stroke="#1a1a1a" stroke-width="1" />
<line x1="536.40" y1="53.10" x2="540.60" y2="45.50" stroke="#1a1a1a" stroke-width="1" />
<line x1="558.30" y1="53.10" x2="554.10" y2="45.50" stroke="#1a1a1a" stroke-width="1" />
<line x1="558.30" y1="53.10" x2="562.50" y2="45.50" stroke="#1a1a1a" stroke-width="1" />
<line x1="580.20" y1="53.10" x2="576.00" y2="45.50" stroke="#1a1a1a" stroke-width="1" />
<line x1="580.20" y1="53.10" x2="584.40" y2="45.50" stroke="#1a1a1a" stroke-width="1" />
<line x1="547.30" y1="59.10" x2="543.10" y2="66.30" stroke="#1a1a1a" stroke-width="1" />
<line x1="547.30" y1="59.10" x2="551.50" y2="66.30" stroke="#1a1a1a" stroke-width="1" />
<line x1="569.30" y1="59.10" x2="565.10" y2="66.30" stroke="#1a1a1a" stroke-width="1" />
<line x1="569.30" y1="59.10" x2="573.50" y2="66.30" stroke="#1a1a1a" stroke-width="1" />
<line x1="591.20" y1="59.10" x2="587.00" y2="66.30" stroke="#1a1a1a" stroke-width="1" />
<line x1="591.20" y1="59.10" x2="595.40" y2="66.30" stroke="#1a1a1a" stroke-width="1" />
<text x="515.00" y="54.10" font-size="7.2" text-anchor="middle" font-weight="bold" fill="#1a1a1a" >F</text>
<text x="530.00" y="43.50" font-size="7.2" text-anchor="middle" font-weight="bold" fill="#1a1a1a" >F</text>
<text x="542.40" y="43.50" font-size="7.2" text-anchor="middle" font-weight="bold" fill="#1a1a1a" >F</text>
<text x="551.90" y="43.50" font-size="7.2" text-anchor="middle" font-weight="bold" fill="#1a1a1a" >F</text>
<text x="564.30" y="43.50" font-size="7.2" text-anchor="middle" font-weight="bold" fill="#1a1a1a" >F</text>
<text x="573.80" y="43.50" font-size="7.2" text-anchor="middle" font-weight="bold" fill="#1a1a1a" >F</text>
<text x="586.20" y="43.50" font-size="7.2" text-anchor="middle" font-weight="bold" fill="#1a1a1a" >F</text>
<text x="519.50" y="71.50" font-size="7.2" text-anchor="middle" font-weight="bold" fill="#1a1a1a" >F</text>
<text x="531.90" y="71.50" font-size="7.2" text-anchor="middle" font-weight="bold" fill="#1a1a1a" >F</text>
<text x="541.30" y="71.50" font-size="7.2" text-anchor="middle" font-weight="bold" fill="#1a1a1a" >F</text>
<text x="553.70" y="71.50" font-size="7.2" text-anchor="middle" font-weight="bold" fill="#1a1a1a" >F</text>
<text x="563.30" y="71.50" font-size="7.2" text-anchor="middle" font-weight="bold" fill="#1a1a1a" >F</text>
<text x="575.70" y="71.50" font-size="7.2" text-anchor="middle" font-weight="bold" fill="#1a1a1a" >F</text>
<text x="585.20" y="71.50" font-size="7.2" text-anchor="middle" font-weight="bold" fill="#1a1a1a" >F</text>
<text x="597.60" y="71.50" font-size="7.2" text-anchor="middle" font-weight="bold" fill="#1a1a1a" >F</text>
<line x1="591.20" y1="59.10" x2="601.50" y2="53.40" stroke="#ff1a1a" stroke-width="1" />
<line x1="600.40" y1="53.40" x2="600.40" y2="44.60" stroke="#ff1a1a" stroke-width="0.9" />
<line x1="602.60" y1="53.40" x2="602.60" y2="44.60" stroke="#ff1a1a" stroke-width="0.9" />
<line x1="601.50" y1="53.40" x2="609.20" y2="57.40" stroke="#ff1a1a" stroke-width="1" />
<text x="601.90" y="42.80" font-size="8.2" text-anchor="middle" fill="#ff1a1a" >O</text>
<text x="612.90" y="61.00" font-size="8.2" text-anchor="middle" fill="#ff1a1a" >O</text>
<line x1="616.20" y1="54.30" x2="619.00" y2="54.30" stroke="#ff1a1a" stroke-width="0.9" />
<path d="M511.3,82.39999999999999 L513.2,84.7 L517.6,79.8" fill="none" stroke="#1a1a1a" stroke-width="1.1"/>
<text x="521.60" y="86.30" font-size="9.55" text-anchor="start" fill="#1a1a1a" >Pot experiments</text>
<path d="M511.3,99.6 L513.2,101.9 L517.6,97.0" fill="none" stroke="#1a1a1a" stroke-width="1.1"/>
<text x="521.6" y="103.6" font-size="9.6" fill="#1a1a1a">Different level of soil <tspan font-weight="bold">PFOA</tspan></text>
<path d="M511.3,116.5 L513.2,118.80000000000001 L517.6,113.9" fill="none" stroke="#1a1a1a" stroke-width="1.1"/>
<text x="521.6" y="120.6" font-size="9.6" fill="#1a1a1a">Treated <tspan font-weight="bold">60 days</tspan></text>
<text x="249.40" y="245.90" font-size="18" text-anchor="start" font-weight="bold" fill="#000" >d</text>
<path d="M291.60,393.44 L341.40,391.83 L391.10,398.44 L440.40,404.69" fill="none" stroke="#222" stroke-width="0.8"/>
<line x1="291.60" y1="387.90" x2="291.60" y2="398.97" stroke="#333" stroke-width="0.9" />
<line x1="290.00" y1="387.90" x2="293.20" y2="387.90" stroke="#333" stroke-width="0.9" />
<line x1="290.00" y1="398.97" x2="293.20" y2="398.97" stroke="#333" stroke-width="0.9" />
<line x1="341.40" y1="387.90" x2="341.40" y2="395.76" stroke="#333" stroke-width="0.9" />
<line x1="339.80" y1="387.90" x2="343.00" y2="387.90" stroke="#333" stroke-width="0.9" />
<line x1="339.80" y1="395.76" x2="343.00" y2="395.76" stroke="#333" stroke-width="0.9" />
<line x1="391.10" y1="396.12" x2="391.10" y2="400.76" stroke="#333" stroke-width="0.9" />
<line x1="389.50" y1="396.12" x2="392.70" y2="396.12" stroke="#333" stroke-width="0.9" />
<line x1="389.50" y1="400.76" x2="392.70" y2="400.76" stroke="#333" stroke-width="0.9" />
<line x1="440.40" y1="402.55" x2="440.40" y2="406.84" stroke="#333" stroke-width="0.9" />
<line x1="438.80" y1="402.55" x2="442.00" y2="402.55" stroke="#333" stroke-width="0.9" />
<line x1="438.80" y1="406.84" x2="442.00" y2="406.84" stroke="#333" stroke-width="0.9" />
<rect x="288.50" y="390.34" width="6.20" height="6.20" fill="#f2d4e0" stroke="none" stroke-width="1" />
<rect x="338.30" y="388.73" width="6.20" height="6.20" fill="#f2d4e0" stroke="none" stroke-width="1" />
<rect x="388.00" y="395.34" width="6.20" height="6.20" fill="#f2d4e0" stroke="none" stroke-width="1" />
<rect x="437.30" y="401.59" width="6.20" height="6.20" fill="#f2d4e0" stroke="none" stroke-width="1" />
<path d="M291.60,368.77 L341.40,379.32 L391.10,380.93 L440.40,387.54" fill="none" stroke="#222" stroke-width="0.8"/>
<line x1="291.60" y1="361.45" x2="291.60" y2="376.10" stroke="#333" stroke-width="0.9" />
<line x1="290.00" y1="361.45" x2="293.20" y2="361.45" stroke="#333" stroke-width="0.9" />
<line x1="290.00" y1="376.10" x2="293.20" y2="376.10" stroke="#333" stroke-width="0.9" />
<line x1="341.40" y1="371.81" x2="341.40" y2="386.82" stroke="#333" stroke-width="0.9" />
<line x1="339.80" y1="371.81" x2="343.00" y2="371.81" stroke="#333" stroke-width="0.9" />
<line x1="339.80" y1="386.82" x2="343.00" y2="386.82" stroke="#333" stroke-width="0.9" />
<line x1="391.10" y1="372.35" x2="391.10" y2="389.50" stroke="#333" stroke-width="0.9" />
<line x1="389.50" y1="372.35" x2="392.70" y2="372.35" stroke="#333" stroke-width="0.9" />
<line x1="389.50" y1="389.50" x2="392.70" y2="389.50" stroke="#333" stroke-width="0.9" />
<line x1="440.40" y1="381.46" x2="440.40" y2="393.61" stroke="#333" stroke-width="0.9" />
<line x1="438.80" y1="381.46" x2="442.00" y2="381.46" stroke="#333" stroke-width="0.9" />
<line x1="438.80" y1="393.61" x2="442.00" y2="393.61" stroke="#333" stroke-width="0.9" />
<rect x="288.50" y="365.67" width="6.20" height="6.20" fill="#e0a1bf" stroke="none" stroke-width="1" />
<rect x="338.30" y="376.22" width="6.20" height="6.20" fill="#e0a1bf" stroke="none" stroke-width="1" />
<rect x="388.00" y="377.83" width="6.20" height="6.20" fill="#e0a1bf" stroke="none" stroke-width="1" />
<rect x="437.30" y="384.44" width="6.20" height="6.20" fill="#e0a1bf" stroke="none" stroke-width="1" />
<path d="M291.60,282.82 L341.40,303.73 L391.10,325.35 L440.40,356.80" fill="none" stroke="#222" stroke-width="0.8"/>
<line x1="291.60" y1="266.02" x2="291.60" y2="299.62" stroke="#333" stroke-width="0.9" />
<line x1="290.00" y1="266.02" x2="293.20" y2="266.02" stroke="#333" stroke-width="0.9" />
<line x1="290.00" y1="299.62" x2="293.20" y2="299.62" stroke="#333" stroke-width="0.9" />
<line x1="341.40" y1="286.93" x2="341.40" y2="320.53" stroke="#333" stroke-width="0.9" />
<line x1="339.80" y1="286.93" x2="343.00" y2="286.93" stroke="#333" stroke-width="0.9" />
<line x1="339.80" y1="320.53" x2="343.00" y2="320.53" stroke="#333" stroke-width="0.9" />
<line x1="391.10" y1="308.20" x2="391.10" y2="342.51" stroke="#333" stroke-width="0.9" />
<line x1="389.50" y1="308.20" x2="392.70" y2="308.20" stroke="#333" stroke-width="0.9" />
<line x1="389.50" y1="342.51" x2="392.70" y2="342.51" stroke="#333" stroke-width="0.9" />
<line x1="440.40" y1="347.33" x2="440.40" y2="366.27" stroke="#333" stroke-width="0.9" />
<line x1="438.80" y1="347.33" x2="442.00" y2="347.33" stroke="#333" stroke-width="0.9" />
<line x1="438.80" y1="366.27" x2="442.00" y2="366.27" stroke="#333" stroke-width="0.9" />
<rect x="288.50" y="279.72" width="6.20" height="6.20" fill="#8c3461" stroke="none" stroke-width="1" />
<rect x="338.30" y="300.63" width="6.20" height="6.20" fill="#8c3461" stroke="none" stroke-width="1" />
<rect x="388.00" y="322.25" width="6.20" height="6.20" fill="#8c3461" stroke="none" stroke-width="1" />
<rect x="437.30" y="353.70" width="6.20" height="6.20" fill="#8c3461" stroke="none" stroke-width="1" />
<line x1="277.40" y1="255.30" x2="455.70" y2="255.30" stroke="#444" stroke-width="1" />
<line x1="455.70" y1="255.30" x2="455.70" y2="434.00" stroke="#444" stroke-width="1" />
<line x1="276.90" y1="434.00" x2="456.20" y2="434.00" stroke="#333" stroke-width="1" />
<line x1="277.00" y1="254.80" x2="277.00" y2="434.00" stroke="#8a8a8a" stroke-width="1.8" />
<line x1="277.40" y1="434.00" x2="279.60" y2="434.00" stroke="#333" stroke-width="0.8" />
<text x="273.60" y="437.30" font-size="10.35" text-anchor="end" fill="#1a1a1a" >0</text>
<line x1="277.40" y1="398.26" x2="279.60" y2="398.26" stroke="#333" stroke-width="0.8" />
<text x="273.60" y="401.56" font-size="10.35" text-anchor="end" fill="#1a1a1a" >2</text>
<line x1="277.40" y1="362.52" x2="279.60" y2="362.52" stroke="#333" stroke-width="0.8" />
<text x="273.60" y="365.82" font-size="10.35" text-anchor="end" fill="#1a1a1a" >4</text>
<line x1="277.40" y1="326.78" x2="279.60" y2="326.78" stroke="#333" stroke-width="0.8" />
<text x="273.60" y="330.08" font-size="10.35" text-anchor="end" fill="#1a1a1a" >6</text>
<line x1="277.40" y1="291.04" x2="279.60" y2="291.04" stroke="#333" stroke-width="0.8" />
<text x="273.60" y="294.34" font-size="10.35" text-anchor="end" fill="#1a1a1a" >8</text>
<line x1="277.40" y1="255.30" x2="279.60" y2="255.30" stroke="#333" stroke-width="0.8" />
<text x="273.60" y="258.60" font-size="10.35" text-anchor="end" fill="#1a1a1a" >10</text>
<line x1="291.60" y1="434.00" x2="291.60" y2="432.00" stroke="#333" stroke-width="0.8" />
<text x="291.60" y="446.60" font-size="10.35" text-anchor="middle" fill="#1a1a1a" >50</text>
<line x1="341.40" y1="434.00" x2="341.40" y2="432.00" stroke="#333" stroke-width="0.8" />
<text x="341.40" y="446.60" font-size="10.35" text-anchor="middle" fill="#1a1a1a" >200</text>
<line x1="391.10" y1="434.00" x2="391.10" y2="432.00" stroke="#333" stroke-width="0.8" />
<text x="391.10" y="446.60" font-size="10.35" text-anchor="middle" fill="#1a1a1a" >500</text>
<line x1="440.40" y1="434.00" x2="440.40" y2="432.00" stroke="#333" stroke-width="0.8" />
<text x="440.40" y="446.60" font-size="10.35" text-anchor="middle" fill="#1a1a1a" >2000</text>
<text x="365.30" y="460.60" font-size="11.05" text-anchor="middle" font-weight="bold" fill="#1a1a1a" >Initial soil PFOA (ng/g)</text>
<text transform="translate(259.2,348.3) rotate(-90)" x="0" y="0" font-size="10.85" text-anchor="middle" fill="#1a1a1a">Plant concentration factor</text>
<line x1="405.40" y1="267.80" x2="418.30" y2="267.80" stroke="#222" stroke-width="1.1" />
<rect x="408.80" y="264.70" width="6.20" height="6.20" fill="#8c3461" stroke="none" stroke-width="1" />
<text x="423.00" y="271.40" font-size="10.0" text-anchor="start" fill="#1a1a1a" >SHCF</text>
<line x1="405.40" y1="282.70" x2="418.30" y2="282.70" stroke="#222" stroke-width="1.1" />
<rect x="408.80" y="279.60" width="6.20" height="6.20" fill="#f2d4e0" stroke="none" stroke-width="1" />
<text x="423.00" y="286.30" font-size="10.0" text-anchor="start" fill="#1a1a1a" >RCF</text>
<line x1="405.40" y1="297.00" x2="418.30" y2="297.00" stroke="#222" stroke-width="1.1" />
<rect x="408.80" y="293.90" width="6.20" height="6.20" fill="#e0a1bf" stroke="none" stroke-width="1" />
<text x="423.60" y="300.60" font-size="10.0" text-anchor="start" fill="#1a1a1a" >TF</text>
<text x="467.00" y="245.40" font-size="18" text-anchor="start" font-weight="bold" fill="#000" >e</text>
<line x1="652.90" y1="278.88" x2="652.90" y2="264.30" stroke="#444" stroke-width="0.9" />
<line x1="649.70" y1="264.30" x2="656.10" y2="264.30" stroke="#444" stroke-width="0.9" />
<line x1="667.60" y1="291.94" x2="667.60" y2="283.30" stroke="#444" stroke-width="0.9" />
<line x1="664.80" y1="283.30" x2="670.40" y2="283.30" stroke="#444" stroke-width="0.9" />
<rect x="515.60" y="427.79" width="14.60" height="5.51" fill="#ffffff" stroke="#2a2a2a" stroke-width="1" />
<rect x="530.20" y="429.92" width="14.60" height="3.38" fill="#c6b8d7" stroke="#2a2a2a" stroke-width="1" />
<rect x="559.60" y="416.77" width="14.60" height="16.53" fill="#ffffff" stroke="#2a2a2a" stroke-width="1" />
<rect x="574.20" y="418.91" width="14.60" height="14.39" fill="#c6b8d7" stroke="#2a2a2a" stroke-width="1" />
<rect x="602.10" y="390.65" width="14.60" height="42.65" fill="#ffffff" stroke="#2a2a2a" stroke-width="1" />
<rect x="616.70" y="395.54" width="14.60" height="37.76" fill="#c6b8d7" stroke="#2a2a2a" stroke-width="1" />
<rect x="646.00" y="278.88" width="14.60" height="154.42" fill="#ffffff" stroke="#2a2a2a" stroke-width="1" />
<rect x="660.60" y="291.94" width="14.60" height="141.36" fill="#c6b8d7" stroke="#2a2a2a" stroke-width="1" />
<path d="M667.6,280.3 L670.6,283.3 L667.6,286.3 L664.6,283.3 Z" fill="#fff" stroke="#444" stroke-width="0.8"/>
<circle cx="518.30" cy="429.60" r="2.6" fill="#fff" stroke="#444" stroke-width="0.8"/>
<circle cx="523.30" cy="429.30" r="2.6" fill="#fff" stroke="#444" stroke-width="0.8"/>
<circle cx="528.00" cy="429.60" r="2.6" fill="#fff" stroke="#444" stroke-width="0.8"/>
<circle cx="533.00" cy="430.20" r="2.6" fill="#fff" stroke="#444" stroke-width="0.8"/>
<circle cx="537.90" cy="430.20" r="2.6" fill="#fff" stroke="#444" stroke-width="0.8"/>
<circle cx="542.70" cy="429.90" r="2.6" fill="#fff" stroke="#444" stroke-width="0.8"/>
<circle cx="562.30" cy="418.20" r="2.6" fill="#fff" stroke="#444" stroke-width="0.8"/>
<circle cx="566.80" cy="418.60" r="2.6" fill="#fff" stroke="#444" stroke-width="0.8"/>
<circle cx="571.80" cy="416.80" r="2.6" fill="#fff" stroke="#444" stroke-width="0.8"/>
<circle cx="576.60" cy="419.00" r="2.6" fill="#fff" stroke="#444" stroke-width="0.8"/>
<circle cx="581.10" cy="419.50" r="2.6" fill="#fff" stroke="#444" stroke-width="0.8"/>
<circle cx="585.70" cy="420.80" r="2.6" fill="#fff" stroke="#444" stroke-width="0.8"/>
<circle cx="604.90" cy="393.90" r="2.6" fill="#fff" stroke="#444" stroke-width="0.8"/>
<circle cx="609.70" cy="389.10" r="2.6" fill="#fff" stroke="#444" stroke-width="0.8"/>
<circle cx="614.60" cy="391.00" r="2.6" fill="#fff" stroke="#444" stroke-width="0.8"/>
<circle cx="619.10" cy="395.80" r="2.6" fill="#fff" stroke="#444" stroke-width="0.8"/>
<circle cx="623.90" cy="397.50" r="2.6" fill="#fff" stroke="#444" stroke-width="0.8"/>
<circle cx="629.10" cy="394.20" r="2.6" fill="#fff" stroke="#444" stroke-width="0.8"/>
<circle cx="649.40" cy="271.90" r="2.6" fill="#fff" stroke="#444" stroke-width="0.8"/>
<circle cx="656.70" cy="269.10" r="2.6" fill="#fff" stroke="#444" stroke-width="0.8"/>
<circle cx="652.90" cy="295.70" r="2.6" fill="#fff" stroke="#444" stroke-width="0.8"/>
<circle cx="663.70" cy="298.20" r="2.6" fill="#fff" stroke="#444" stroke-width="0.8"/>
<circle cx="671.10" cy="294.70" r="2.6" fill="#fff" stroke="#444" stroke-width="0.8"/>
<line x1="506.30" y1="255.60" x2="684.20" y2="255.60" stroke="#444" stroke-width="1" />
<line x1="684.20" y1="255.60" x2="684.20" y2="433.30" stroke="#444" stroke-width="1" />
<line x1="505.80" y1="433.30" x2="684.70" y2="433.30" stroke="#333" stroke-width="1" />
<line x1="506.30" y1="255.10" x2="506.30" y2="433.30" stroke="#333" stroke-width="1" />
<line x1="506.30" y1="433.30" x2="508.50" y2="433.30" stroke="#333" stroke-width="0.8" />
<text x="503.40" y="437.00" font-size="10.7" text-anchor="end" fill="#1a1a1a" >0</text>
<line x1="506.30" y1="397.76" x2="508.50" y2="397.76" stroke="#333" stroke-width="0.8" />
<text x="503.40" y="401.46" font-size="10.7" text-anchor="end" fill="#1a1a1a" >400</text>
<line x1="506.30" y1="362.22" x2="508.50" y2="362.22" stroke="#333" stroke-width="0.8" />
<text x="503.40" y="365.92" font-size="10.7" text-anchor="end" fill="#1a1a1a" >800</text>
<line x1="506.30" y1="326.68" x2="508.50" y2="326.68" stroke="#333" stroke-width="0.8" />
<text x="503.40" y="330.38" font-size="10.7" text-anchor="end" fill="#1a1a1a" >1200</text>
<line x1="506.30" y1="291.14" x2="508.50" y2="291.14" stroke="#333" stroke-width="0.8" />
<text x="503.40" y="294.84" font-size="10.7" text-anchor="end" fill="#1a1a1a" >1600</text>
<line x1="506.30" y1="255.60" x2="508.50" y2="255.60" stroke="#333" stroke-width="0.8" />
<text x="503.40" y="259.30" font-size="10.7" text-anchor="end" fill="#1a1a1a" >2000</text>
<text x="531.00" y="446.60" font-size="10.6" text-anchor="middle" fill="#1a1a1a" >50</text>
<text x="574.00" y="446.60" font-size="10.6" text-anchor="middle" fill="#1a1a1a" >200</text>
<text x="617.20" y="446.60" font-size="10.6" text-anchor="middle" fill="#1a1a1a" >500</text>
<text x="659.20" y="446.60" font-size="10.6" text-anchor="middle" fill="#1a1a1a" >2000</text>
<text x="590.55" y="461.60" font-size="11.15" text-anchor="middle" font-weight="bold" fill="#1a1a1a" >Initial soil PFOA (ng/g)</text>
<text transform="translate(476.2,347.05) rotate(-90)" x="0" y="0" font-size="11.15" text-anchor="middle" fill="#1a1a1a">PFOA concentration of soil (ng/g)</text>
<rect x="513.00" y="262.90" width="6.50" height="6.50" fill="#fff" stroke="#333" stroke-width="0.9" />
<text x="522.80" y="269.40" font-size="9.6" text-anchor="start" fill="#1a1a1a" >Before phytoremediation</text>
<rect x="513.00" y="278.80" width="6.50" height="6.50" fill="#c6b8d7" stroke="#333" stroke-width="0.9" />
<text x="522.80" y="285.30" font-size="9.6" text-anchor="start" fill="#1a1a1a" >After phytoremediation</text>
<text x="529.1" y="418.2" font-size="7.6" text-anchor="middle" fill="#1a1a1a"><tspan font-style="italic">p</tspan> = 0.021</text>
<line x1="523.40" y1="422.40" x2="536.60" y2="422.40" stroke="#555" stroke-width="1.2" />
<text x="572.3" y="405.4" font-size="7.6" text-anchor="middle" fill="#1a1a1a"><tspan font-style="italic">p</tspan> = 0.040</text>
<line x1="566.80" y1="409.60" x2="580.20" y2="409.60" stroke="#555" stroke-width="1.2" />
<text x="616.1" y="378.2" font-size="7.6" text-anchor="middle" fill="#1a1a1a"><tspan font-style="italic">p</tspan> = 0.036</text>
<line x1="610.70" y1="382.60" x2="623.60" y2="382.60" stroke="#555" stroke-width="1.2" />
</svg>
</body></html>
